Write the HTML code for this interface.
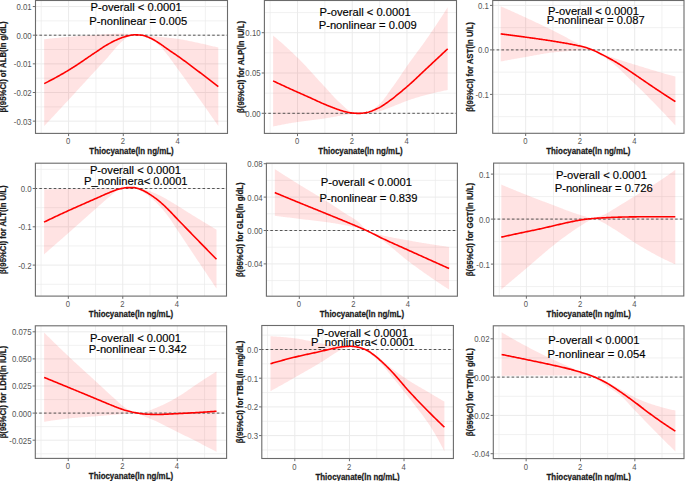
<!DOCTYPE html>
<html><head><meta charset="utf-8"><style>
html,body{margin:0;padding:0;background:#fff;}
body{width:685px;height:481px;overflow:hidden;}
svg{display:block;}
text{font-family:"Liberation Sans",sans-serif;}
.tl{font-size:9px;fill:#555;}
.at{font-size:7.92px;font-weight:bold;fill:#1a1a1a;stroke:#1a1a1a;stroke-width:0.22px;}
.pt{font-size:11.2px;fill:#000;stroke:#000;stroke-width:0.15px;}
</style></head><body>
<svg width="685" height="481" viewBox="0 0 685 481">
<rect width="685" height="481" fill="#fff"/>

<g>
<clipPath id="c00"><rect x="35.50" y="0.50" width="192.00" height="132.90"/></clipPath>
<path d="M41.22,0.50V133.40 M95.93,0.50V133.40 M150.65,0.50V133.40 M205.37,0.50V133.40 M35.50,20.88H227.50 M35.50,49.53H227.50 M35.50,78.18H227.50 M35.50,106.83H227.50" stroke="#ebebeb" stroke-width="0.7" fill="none"/>
<path d="M68.58,0.50V133.40 M123.29,0.50V133.40 M178.01,0.50V133.40 M35.50,6.55H227.50 M35.50,35.20H227.50 M35.50,63.85H227.50 M35.50,92.50H227.50 M35.50,121.15H227.50" stroke="#ebebeb" stroke-width="1" fill="none"/>
<polygon clip-path="url(#c00)" points="44.10,39.30 45.08,39.18 46.07,39.07 47.05,38.96 48.04,38.84 49.02,38.73 50.00,38.62 50.99,38.51 51.97,38.41 52.96,38.30 53.94,38.20 54.92,38.09 55.91,37.99 56.89,37.89 57.88,37.79 58.86,37.69 59.84,37.59 60.83,37.50 61.81,37.41 62.80,37.31 63.78,37.22 64.76,37.14 65.75,37.05 66.73,36.96 67.72,36.88 68.70,36.80 69.68,36.72 70.66,36.64 71.64,36.57 72.63,36.49 73.61,36.42 74.59,36.35 75.57,36.28 76.55,36.21 77.53,36.15 78.51,36.08 79.50,36.01 80.48,35.95 81.46,35.89 82.44,35.82 83.42,35.76 84.40,35.70 85.39,35.63 86.37,35.57 87.35,35.51 88.33,35.45 89.31,35.39 90.29,35.32 91.27,35.26 92.26,35.20 93.24,35.13 94.22,35.07 95.20,35.00 96.19,34.93 97.17,34.86 98.16,34.79 99.15,34.71 100.13,34.64 101.12,34.57 102.11,34.49 103.09,34.42 104.08,34.35 105.07,34.28 106.05,34.22 107.04,34.16 108.03,34.10 109.01,34.05 110.00,34.00 111.00,33.96 112.00,33.91 113.00,33.86 114.00,33.82 115.00,33.77 116.00,33.73 117.00,33.70 118.00,33.66 119.00,33.64 120.00,33.62 121.00,33.60 122.00,33.60 123.00,33.61 124.00,33.63 125.00,33.67 126.00,33.72 127.00,33.78 128.00,33.85 129.00,33.92 130.00,34.00 130.94,34.10 131.88,34.24 132.82,34.41 133.76,34.60 134.70,34.80 135.61,34.80 136.52,34.82 137.44,34.84 138.35,34.86 139.26,34.89 140.18,34.92 141.09,34.96 142.00,35.00 143.00,35.06 144.00,35.15 145.00,35.26 146.00,35.39 147.00,35.52 148.00,35.66 149.00,35.78 150.00,35.90 151.00,36.01 152.00,36.11 153.00,36.21 154.00,36.31 155.00,36.41 156.00,36.50 157.00,36.60 158.00,36.70 159.00,36.80 160.00,36.89 161.00,36.99 162.00,37.10 163.00,37.20 163.96,37.30 164.92,37.40 165.88,37.50 166.84,37.59 167.80,37.69 168.76,37.79 169.72,37.89 170.68,37.99 171.64,38.09 172.60,38.20 173.56,38.31 174.52,38.43 175.48,38.54 176.44,38.67 177.40,38.80 178.38,38.94 179.36,39.09 180.34,39.25 181.32,39.41 182.30,39.58 183.28,39.76 184.26,39.94 185.24,40.13 186.22,40.32 187.20,40.52 188.18,40.72 189.16,40.93 190.14,41.13 191.12,41.34 192.10,41.55 193.08,41.76 194.06,41.97 195.04,42.18 196.02,42.39 197.00,42.60 197.97,42.81 198.94,43.01 199.90,43.23 200.87,43.44 201.84,43.65 202.81,43.87 203.78,44.09 204.75,44.31 205.71,44.53 206.68,44.76 207.65,44.98 208.62,45.21 209.59,45.44 210.55,45.67 211.52,45.91 212.49,46.14 213.46,46.38 214.43,46.62 215.40,46.86 216.36,47.11 217.33,47.35 218.30,47.60 218.30,126.00 217.33,124.60 216.36,123.21 215.39,121.82 214.42,120.43 213.45,119.04 212.48,117.65 211.51,116.27 210.54,114.88 209.57,113.50 208.60,112.12 207.63,110.74 206.67,109.36 205.70,107.98 204.73,106.61 203.76,105.23 202.79,103.86 201.82,102.49 200.85,101.12 199.88,99.75 198.91,98.39 197.94,97.02 196.97,95.66 196.00,94.30 195.00,92.90 194.00,91.50 193.00,90.10 192.00,88.70 191.00,87.30 190.00,85.91 189.00,84.52 188.00,83.13 187.00,81.74 186.00,80.35 185.00,78.96 184.00,77.58 183.00,76.20 182.00,74.82 181.00,73.44 180.00,72.06 179.00,70.69 178.00,69.31 177.00,67.94 176.00,66.57 175.00,65.20 174.05,63.89 173.10,62.57 172.15,61.25 171.20,59.93 170.25,58.63 169.30,57.35 168.35,56.10 167.40,54.90 166.49,53.76 165.58,52.62 164.67,51.49 163.76,50.38 162.84,49.30 161.93,48.26 161.02,47.27 160.11,46.35 159.20,45.50 158.27,44.68 157.34,43.88 156.41,43.10 155.48,42.35 154.55,41.64 153.62,40.96 152.69,40.34 151.76,39.76 150.83,39.25 149.90,38.80 148.91,38.37 147.92,37.98 146.93,37.61 145.94,37.26 144.96,36.95 143.97,36.65 142.98,36.38 141.99,36.13 141.00,35.90 140.10,35.70 139.20,35.52 138.30,35.34 137.40,35.18 136.50,35.04 135.60,34.91 134.70,34.80 133.75,34.89 132.80,35.06 131.85,35.31 130.90,35.61 129.95,35.94 129.00,36.30 128.04,36.75 127.08,37.33 126.12,38.01 125.16,38.75 124.20,39.50 123.23,40.29 122.27,41.15 121.30,42.07 120.33,43.02 119.37,44.01 118.40,45.00 117.43,46.03 116.45,47.09 115.48,48.19 114.50,49.32 113.53,50.47 112.55,51.63 111.58,52.79 110.60,53.96 109.62,55.12 108.65,56.27 107.67,57.40 106.70,58.50 105.73,59.57 104.77,60.63 103.80,61.68 102.83,62.73 101.87,63.76 100.90,64.80 99.93,65.83 98.97,66.86 98.00,67.89 97.03,68.92 96.07,69.96 95.10,71.00 94.10,72.08 93.10,73.17 92.10,74.25 91.10,75.34 90.10,76.43 89.10,77.52 88.10,78.61 87.10,79.70 86.10,80.79 85.10,81.88 84.10,82.98 83.10,84.07 82.10,85.16 81.10,86.26 80.10,87.35 79.10,88.44 78.10,89.53 77.10,90.62 76.10,91.71 75.10,92.80 74.10,93.89 73.10,94.98 72.10,96.07 71.10,97.15 70.10,98.24 69.10,99.32 68.10,100.40 67.10,101.47 66.11,102.55 65.11,103.62 64.12,104.70 63.12,105.77 62.12,106.84 61.13,107.91 60.13,108.98 59.14,110.05 58.14,111.12 57.15,112.18 56.15,113.25 55.15,114.32 54.16,115.38 53.16,116.45 52.17,117.51 51.17,118.57 50.17,119.64 49.18,120.70 48.18,121.76 47.19,122.82 46.19,123.88 45.20,124.94 44.20,126.00" fill="#ff0000" fill-opacity="0.11"/>
<path d="M35.50,35.20H227.50" stroke="#3a3a3a" stroke-width="0.85" stroke-dasharray="2.6,2.2" stroke-dashoffset="0.9" fill="none"/>
<polyline clip-path="url(#c00)" points="44.20,83.60 45.20,83.11 46.19,82.61 47.19,82.10 48.18,81.59 49.18,81.08 50.17,80.56 51.17,80.04 52.17,79.51 53.16,78.98 54.16,78.44 55.15,77.90 56.15,77.36 57.15,76.81 58.14,76.26 59.14,75.70 60.13,75.14 61.13,74.57 62.12,74.00 63.12,73.43 64.12,72.85 65.11,72.27 66.11,71.68 67.10,71.09 68.10,70.50 69.10,69.90 70.09,69.29 71.09,68.67 72.09,68.04 73.08,67.41 74.08,66.77 75.07,66.12 76.07,65.47 77.07,64.81 78.06,64.15 79.06,63.49 80.06,62.82 81.05,62.14 82.05,61.47 83.04,60.79 84.04,60.11 85.04,59.43 86.03,58.75 87.03,58.07 88.03,57.39 89.02,56.71 90.02,56.04 91.01,55.36 92.01,54.69 93.01,54.02 94.00,53.36 95.00,52.70 95.97,52.05 96.95,51.39 97.92,50.72 98.90,50.06 99.88,49.39 100.85,48.72 101.83,48.06 102.80,47.41 103.78,46.78 104.75,46.16 105.72,45.57 106.70,45.00 107.67,44.45 108.65,43.90 109.62,43.36 110.60,42.83 111.58,42.31 112.55,41.81 113.53,41.32 114.50,40.84 115.48,40.38 116.45,39.93 117.43,39.51 118.40,39.10 119.33,38.72 120.26,38.35 121.19,37.98 122.12,37.62 123.05,37.27 123.98,36.95 124.91,36.64 125.84,36.36 126.77,36.12 127.70,35.90 128.70,35.68 129.70,35.47 130.70,35.26 131.70,35.08 132.70,34.93 133.70,34.83 134.70,34.80 135.70,34.81 136.70,34.84 137.70,34.89 138.70,34.95 139.70,35.02 140.70,35.11 141.70,35.20 142.61,35.32 143.52,35.52 144.43,35.76 145.34,36.06 146.26,36.39 147.17,36.75 148.08,37.13 148.99,37.52 149.90,37.90 150.83,38.31 151.76,38.76 152.69,39.24 153.62,39.76 154.55,40.30 155.48,40.86 156.41,41.43 157.34,42.02 158.27,42.61 159.20,43.20 160.11,43.79 161.02,44.41 161.93,45.05 162.84,45.71 163.76,46.37 164.67,47.04 165.58,47.70 166.49,48.36 167.40,49.00 168.40,49.69 169.40,50.37 170.40,51.04 171.40,51.72 172.40,52.39 173.40,53.06 174.40,53.73 175.40,54.41 176.40,55.10 177.40,55.80 178.38,56.49 179.36,57.19 180.34,57.90 181.32,58.61 182.30,59.32 183.28,60.04 184.26,60.76 185.24,61.48 186.22,62.21 187.20,62.94 188.18,63.67 189.16,64.40 190.14,65.14 191.12,65.87 192.10,66.61 193.08,67.35 194.06,68.09 195.04,68.82 196.02,69.56 197.00,70.30 197.97,71.03 198.94,71.76 199.90,72.49 200.87,73.22 201.84,73.96 202.81,74.69 203.78,75.43 204.75,76.16 205.71,76.90 206.68,77.64 207.65,78.38 208.62,79.12 209.59,79.86 210.55,80.61 211.52,81.35 212.49,82.10 213.46,82.85 214.43,83.59 215.40,84.34 216.36,85.09 217.33,85.85 218.30,86.60" fill="none" stroke="#ff0000" stroke-width="1.6" stroke-linejoin="round" stroke-linecap="butt"/>
<rect x="35.50" y="0.50" width="192.00" height="132.90" fill="none" stroke="#6b6b6b" stroke-width="1.1"/>
<path d="M68.58,133.40v2.7 M123.29,133.40v2.7 M178.01,133.40v2.7 M35.50,6.55h-2.7 M35.50,35.20h-2.7 M35.50,63.85h-2.7 M35.50,92.50h-2.7 M35.50,121.15h-2.7" stroke="#6b6b6b" stroke-width="1" fill="none"/>
<text class="tl" transform="translate(68.18,144.40) scale(0.85,1)" text-anchor="middle">0</text>
<text class="tl" transform="translate(122.89,144.40) scale(0.85,1)" text-anchor="middle">2</text>
<text class="tl" transform="translate(177.61,144.40) scale(0.85,1)" text-anchor="middle">4</text>
<text class="tl" transform="translate(31.70,9.95) scale(0.87,1)" text-anchor="end">0.01</text>
<text class="tl" transform="translate(31.70,38.60) scale(0.87,1)" text-anchor="end">0.00</text>
<text class="tl" transform="translate(31.70,67.25) scale(0.87,1)" text-anchor="end">-0.01</text>
<text class="tl" transform="translate(31.70,95.90) scale(0.87,1)" text-anchor="end">-0.02</text>
<text class="tl" transform="translate(31.70,124.55) scale(0.87,1)" text-anchor="end">-0.03</text>
<text class="at" transform="translate(131.50,154.40) scale(1,1.15)" text-anchor="middle">Thiocyanate(ln ng/mL)</text>
<text class="at" transform="translate(6.40,66.95) rotate(-90) scale(0.98,1.05)" text-anchor="middle">β(95%CI) of ALB(ln g/dL)</text>
<text class="pt" x="90.60" y="11.20">P-overall < 0.0001</text>
<text class="pt" x="89.30" y="25.20">P-nonlinear = 0.005</text>
</g>
<g>
<clipPath id="c01"><rect x="264.40" y="0.50" width="192.10" height="132.90"/></clipPath>
<path d="M270.12,0.50V133.40 M324.87,0.50V133.40 M379.61,0.50V133.40 M434.36,0.50V133.40 M264.40,12.55H456.50 M264.40,52.85H456.50 M264.40,93.15H456.50" stroke="#ebebeb" stroke-width="0.7" fill="none"/>
<path d="M297.49,0.50V133.40 M352.24,0.50V133.40 M406.98,0.50V133.40 M264.40,32.70H456.50 M264.40,73.00H456.50 M264.40,113.30H456.50" stroke="#ebebeb" stroke-width="1" fill="none"/>
<polygon clip-path="url(#c01)" points="273.10,35.60 274.10,36.42 275.09,37.25 276.09,38.09 277.08,38.93 278.08,39.78 279.08,40.63 280.07,41.49 281.07,42.36 282.06,43.24 283.06,44.12 284.06,45.01 285.05,45.91 286.05,46.81 287.04,47.71 288.04,48.63 289.04,49.55 290.03,50.48 291.03,51.41 292.02,52.35 293.02,53.29 294.02,54.24 295.01,55.20 296.01,56.16 297.00,57.13 298.00,58.10 298.97,59.06 299.94,60.03 300.91,61.01 301.88,62.01 302.85,63.01 303.82,64.03 304.79,65.05 305.76,66.08 306.73,67.12 307.70,68.17 308.67,69.22 309.64,70.28 310.61,71.34 311.59,72.40 312.56,73.47 313.53,74.54 314.50,75.61 315.47,76.68 316.44,77.75 317.41,78.82 318.38,79.89 319.35,80.95 320.32,82.01 321.29,83.07 322.26,84.12 323.23,85.16 324.20,86.20 325.20,87.28 326.20,88.37 327.20,89.47 328.20,90.58 329.20,91.70 330.20,92.81 331.20,93.92 332.20,95.02 333.20,96.11 334.20,97.17 335.20,98.22 336.20,99.24 337.20,100.23 338.20,101.18 339.20,102.10 340.14,102.95 341.07,103.82 342.01,104.71 342.94,105.60 343.88,106.47 344.81,107.33 345.75,108.16 346.69,108.95 347.62,109.69 348.56,110.38 349.49,110.99 350.43,111.52 351.36,111.96 352.30,112.30 353.24,112.58 354.18,112.83 355.12,113.04 356.06,113.20 357.00,113.30 357.94,113.29 358.87,113.25 359.81,113.20 360.75,113.13 361.68,113.04 362.62,112.93 363.55,112.81 364.49,112.67 365.43,112.52 366.36,112.37 367.30,112.20 368.25,111.97 369.20,111.64 370.15,111.21 371.10,110.70 372.05,110.11 373.00,109.46 373.95,108.75 374.90,108.01 375.85,107.23 376.80,106.42 377.75,105.61 378.70,104.80 379.69,103.90 380.69,102.90 381.68,101.81 382.67,100.64 383.66,99.41 384.66,98.12 385.65,96.78 386.64,95.40 387.64,94.00 388.63,92.59 389.62,91.17 390.61,89.76 391.61,88.37 392.60,87.00 393.58,85.65 394.56,84.29 395.55,82.90 396.53,81.49 397.51,80.07 398.49,78.63 399.48,77.19 400.46,75.74 401.44,74.28 402.42,72.83 403.41,71.37 404.39,69.92 405.37,68.47 406.35,67.03 407.34,65.61 408.32,64.19 409.30,62.80 410.28,61.43 411.25,60.07 412.23,58.73 413.21,57.39 414.18,56.07 415.16,54.74 416.14,53.42 417.11,52.11 418.09,50.79 419.06,49.47 420.04,48.14 421.02,46.81 421.99,45.48 422.97,44.13 423.95,42.77 424.92,41.39 425.90,40.00 426.89,38.58 427.88,37.15 428.87,35.71 429.86,34.27 430.85,32.82 431.85,31.37 432.84,29.91 433.83,28.44 434.82,26.96 435.81,25.48 436.80,24.00 437.79,22.50 438.78,21.00 439.77,19.50 440.76,17.98 441.75,16.46 442.75,14.94 443.74,13.40 444.73,11.86 445.72,10.32 446.71,8.76 447.70,7.20 447.70,90.00 446.71,90.19 445.73,90.39 444.74,90.58 443.75,90.79 442.77,90.99 441.78,91.20 440.80,91.42 439.81,91.64 438.82,91.86 437.84,92.08 436.85,92.31 435.86,92.54 434.88,92.77 433.89,93.01 432.90,93.25 431.92,93.49 430.93,93.74 429.95,93.98 428.96,94.24 427.97,94.49 426.99,94.74 426.00,95.00 425.02,95.26 424.04,95.52 423.05,95.79 422.07,96.06 421.09,96.34 420.11,96.62 419.12,96.90 418.14,97.19 417.16,97.49 416.18,97.79 415.19,98.09 414.21,98.40 413.23,98.71 412.25,99.02 411.26,99.34 410.28,99.67 409.30,100.00 408.32,100.34 407.34,100.69 406.35,101.05 405.37,101.42 404.39,101.80 403.41,102.19 402.42,102.58 401.44,102.98 400.46,103.38 399.48,103.78 398.49,104.18 397.51,104.58 396.53,104.97 395.55,105.36 394.56,105.75 393.58,106.13 392.60,106.50 391.61,106.88 390.61,107.26 389.62,107.65 388.63,108.04 387.64,108.43 386.64,108.82 385.65,109.20 384.66,109.58 383.66,109.94 382.67,110.29 381.68,110.63 380.69,110.94 379.69,111.23 378.70,111.50 377.75,111.75 376.80,112.01 375.85,112.27 374.90,112.53 373.95,112.78 373.00,113.02 372.05,113.23 371.10,113.42 370.15,113.58 369.20,113.70 368.25,113.77 367.30,113.80 366.36,113.80 365.43,113.80 364.49,113.79 363.55,113.78 362.62,113.75 361.68,113.72 360.75,113.67 359.81,113.61 358.87,113.53 357.94,113.42 357.00,113.30 356.03,113.43 355.05,113.56 354.08,113.69 353.11,113.82 352.14,113.95 351.16,114.09 350.19,114.23 349.22,114.37 348.25,114.51 347.27,114.65 346.30,114.80 345.30,114.95 344.31,115.11 343.31,115.27 342.32,115.44 341.32,115.61 340.33,115.78 339.33,115.95 338.34,116.12 337.34,116.30 336.35,116.48 335.35,116.65 334.35,116.83 333.36,117.01 332.36,117.18 331.37,117.36 330.37,117.53 329.38,117.70 328.38,117.87 327.39,118.03 326.39,118.19 325.40,118.35 324.40,118.50 323.43,118.64 322.45,118.79 321.48,118.92 320.51,119.06 319.53,119.19 318.56,119.32 317.59,119.45 316.61,119.57 315.64,119.70 314.67,119.82 313.69,119.94 312.72,120.06 311.75,120.19 310.77,120.31 309.80,120.43 308.83,120.55 307.85,120.67 306.88,120.79 305.91,120.91 304.93,121.04 303.96,121.16 302.99,121.29 302.01,121.42 301.04,121.55 300.07,121.68 299.09,121.82 298.12,121.96 297.15,122.10 296.17,122.25 295.20,122.40 294.24,122.55 293.28,122.71 292.32,122.86 291.36,123.02 290.40,123.19 289.43,123.35 288.47,123.52 287.51,123.69 286.55,123.87 285.59,124.04 284.63,124.22 283.67,124.40 282.71,124.58 281.75,124.76 280.79,124.95 279.83,125.14 278.87,125.33 277.90,125.52 276.94,125.71 275.98,125.91 275.02,126.10 274.06,126.30 273.10,126.50" fill="#ff0000" fill-opacity="0.11"/>
<path d="M264.40,113.30H456.50" stroke="#3a3a3a" stroke-width="0.85" stroke-dasharray="2.6,2.2" stroke-dashoffset="0.9" fill="none"/>
<polyline clip-path="url(#c01)" points="273.10,80.90 274.06,81.35 275.02,81.81 275.98,82.26 276.94,82.71 277.90,83.16 278.86,83.61 279.82,84.06 280.78,84.50 281.74,84.95 282.70,85.39 283.66,85.84 284.62,86.28 285.58,86.73 286.54,87.17 287.50,87.61 288.46,88.05 289.42,88.49 290.38,88.93 291.34,89.36 292.30,89.80 293.27,90.24 294.24,90.68 295.22,91.12 296.19,91.55 297.16,91.99 298.13,92.42 299.11,92.85 300.08,93.28 301.05,93.71 302.02,94.14 302.99,94.57 303.97,95.00 304.94,95.43 305.91,95.86 306.88,96.30 307.86,96.73 308.83,97.16 309.80,97.60 310.77,98.04 311.75,98.48 312.72,98.93 313.69,99.38 314.67,99.83 315.64,100.28 316.61,100.73 317.59,101.18 318.56,101.62 319.53,102.07 320.51,102.51 321.48,102.94 322.45,103.37 323.43,103.79 324.40,104.20 325.38,104.61 326.35,105.01 327.32,105.42 328.30,105.81 329.27,106.21 330.25,106.60 331.23,106.98 332.20,107.36 333.18,107.73 334.15,108.10 335.12,108.45 336.10,108.80 337.07,109.14 338.03,109.49 339.00,109.83 339.97,110.16 340.93,110.48 341.90,110.79 342.87,111.09 343.83,111.36 344.80,111.60 345.71,111.82 346.62,112.03 347.54,112.24 348.45,112.44 349.36,112.62 350.28,112.78 351.19,112.90 352.10,113.00 353.01,113.08 353.93,113.15 354.84,113.22 355.75,113.28 356.66,113.33 357.57,113.37 358.49,113.39 359.40,113.40 360.34,113.38 361.29,113.31 362.23,113.21 363.17,113.07 364.11,112.93 365.06,112.76 366.00,112.60 366.98,112.41 367.95,112.18 368.93,111.91 369.91,111.61 370.88,111.28 371.86,110.92 372.84,110.53 373.82,110.13 374.79,109.71 375.77,109.27 376.75,108.82 377.72,108.36 378.70,107.90 379.68,107.41 380.66,106.87 381.64,106.29 382.62,105.67 383.60,105.03 384.58,104.36 385.56,103.68 386.54,102.99 387.52,102.29 388.50,101.60 389.46,100.92 390.42,100.21 391.38,99.50 392.33,98.77 393.29,98.02 394.25,97.27 395.21,96.50 396.17,95.73 397.12,94.95 398.08,94.17 399.04,93.39 400.00,92.60 400.95,91.82 401.90,91.03 402.85,90.23 403.80,89.43 404.75,88.62 405.70,87.81 406.65,86.99 407.60,86.16 408.55,85.33 409.50,84.49 410.45,83.65 411.40,82.80 412.37,81.93 413.33,81.05 414.30,80.16 415.27,79.26 416.23,78.36 417.20,77.45 418.17,76.53 419.13,75.62 420.10,74.70 421.07,73.78 422.03,72.86 423.00,71.94 423.97,71.02 424.93,70.11 425.90,69.20 426.89,68.27 427.88,67.34 428.87,66.42 429.86,65.49 430.85,64.56 431.85,63.63 432.84,62.70 433.83,61.78 434.82,60.85 435.81,59.92 436.80,58.99 437.79,58.07 438.78,57.14 439.77,56.21 440.76,55.29 441.75,54.36 442.75,53.43 443.74,52.50 444.73,51.58 445.72,50.65 446.71,49.73 447.70,48.80" fill="none" stroke="#ff0000" stroke-width="1.6" stroke-linejoin="round" stroke-linecap="butt"/>
<rect x="264.40" y="0.50" width="192.10" height="132.90" fill="none" stroke="#6b6b6b" stroke-width="1.1"/>
<path d="M297.49,133.40v2.7 M352.24,133.40v2.7 M406.98,133.40v2.7 M264.40,32.70h-2.7 M264.40,73.00h-2.7 M264.40,113.30h-2.7" stroke="#6b6b6b" stroke-width="1" fill="none"/>
<text class="tl" transform="translate(297.09,144.40) scale(0.85,1)" text-anchor="middle">0</text>
<text class="tl" transform="translate(351.84,144.40) scale(0.85,1)" text-anchor="middle">2</text>
<text class="tl" transform="translate(406.58,144.40) scale(0.85,1)" text-anchor="middle">4</text>
<text class="tl" transform="translate(260.60,36.10) scale(0.87,1)" text-anchor="end">0.10</text>
<text class="tl" transform="translate(260.60,76.40) scale(0.87,1)" text-anchor="end">0.05</text>
<text class="tl" transform="translate(260.60,116.70) scale(0.87,1)" text-anchor="end">0.00</text>
<text class="at" transform="translate(360.45,154.40) scale(1,1.15)" text-anchor="middle">Thiocyanate(ln ng/mL)</text>
<text class="at" transform="translate(243.60,66.95) rotate(-90) scale(0.98,1.05)" text-anchor="middle">β(95%CI) for ALP(ln IU/L)</text>
<text class="pt" x="319.50" y="16.40">P-overall < 0.0001</text>
<text class="pt" x="318.70" y="28.80">P-nonlinear = 0.009</text>
</g>
<g>
<clipPath id="c02"><rect x="492.70" y="0.50" width="191.30" height="132.80"/></clipPath>
<path d="M498.40,0.50V133.30 M552.91,0.50V133.30 M607.43,0.50V133.30 M661.95,0.50V133.30 M492.70,27.65H684.00 M492.70,72.15H684.00 M492.70,116.65H684.00" stroke="#ebebeb" stroke-width="0.7" fill="none"/>
<path d="M525.66,0.50V133.30 M580.17,0.50V133.30 M634.69,0.50V133.30 M492.70,5.40H684.00 M492.70,49.90H684.00 M492.70,94.40H684.00" stroke="#ebebeb" stroke-width="1" fill="none"/>
<polygon clip-path="url(#c02)" points="500.70,6.30 501.66,6.72 502.63,7.14 503.59,7.57 504.55,7.99 505.51,8.41 506.48,8.84 507.44,9.27 508.40,9.69 509.37,10.12 510.33,10.55 511.29,10.98 512.26,11.41 513.22,11.85 514.18,12.28 515.14,12.71 516.11,13.15 517.07,13.59 518.03,14.02 519.00,14.46 519.96,14.90 520.92,15.34 521.89,15.78 522.85,16.22 523.81,16.67 524.77,17.11 525.74,17.55 526.70,18.00 527.69,18.46 528.69,18.92 529.68,19.38 530.67,19.85 531.66,20.31 532.66,20.77 533.65,21.24 534.64,21.71 535.63,22.17 536.63,22.64 537.62,23.11 538.61,23.58 539.60,24.05 540.60,24.53 541.59,25.00 542.58,25.48 543.57,25.95 544.57,26.43 545.56,26.91 546.55,27.39 547.54,27.87 548.54,28.36 549.53,28.84 550.52,29.33 551.51,29.82 552.51,30.31 553.50,30.80 554.47,31.28 555.44,31.77 556.41,32.27 557.38,32.76 558.35,33.27 559.32,33.77 560.28,34.28 561.25,34.79 562.22,35.30 563.19,35.81 564.16,36.33 565.13,36.84 566.10,37.35 567.07,37.87 568.04,38.38 569.01,38.89 569.98,39.40 570.95,39.90 571.92,40.41 572.88,40.91 573.85,41.40 574.82,41.89 575.79,42.38 576.76,42.86 577.73,43.33 578.70,43.80 579.68,44.27 580.66,44.73 581.64,45.19 582.61,45.64 583.59,46.09 584.57,46.54 585.55,46.98 586.53,47.42 587.51,47.86 588.49,48.29 589.46,48.72 590.44,49.15 591.42,49.58 592.40,50.00 593.34,50.37 594.28,50.74 595.23,51.10 596.17,51.47 597.11,51.83 598.05,52.19 598.99,52.55 599.93,52.90 600.88,53.26 601.82,53.61 602.76,53.95 603.70,54.30 604.66,54.65 605.62,55.00 606.58,55.35 607.55,55.69 608.51,56.04 609.47,56.38 610.43,56.71 611.39,57.05 612.35,57.39 613.32,57.72 614.28,58.05 615.24,58.38 616.20,58.70 617.15,59.02 618.11,59.34 619.06,59.65 620.02,59.96 620.97,60.27 621.92,60.58 622.88,60.88 623.83,61.19 624.78,61.49 625.74,61.80 626.69,62.10 627.65,62.40 628.60,62.70 629.54,63.00 630.48,63.29 631.42,63.59 632.37,63.88 633.31,64.17 634.25,64.46 635.19,64.75 636.13,65.04 637.08,65.33 638.02,65.62 638.96,65.91 639.90,66.20 640.85,66.49 641.80,66.78 642.75,67.08 643.70,67.37 644.65,67.66 645.60,67.95 646.55,68.25 647.50,68.54 648.45,68.83 649.40,69.12 650.35,69.41 651.30,69.70 652.25,69.99 653.20,70.27 654.15,70.56 655.10,70.84 656.05,71.12 657.00,71.40 657.97,71.68 658.94,71.97 659.91,72.25 660.87,72.53 661.84,72.81 662.81,73.08 663.78,73.36 664.75,73.64 665.72,73.91 666.68,74.19 667.65,74.46 668.62,74.73 669.59,75.00 670.56,75.27 671.53,75.54 672.49,75.81 673.46,76.07 674.43,76.34 675.40,76.60 675.40,125.50 674.43,124.45 673.46,123.40 672.49,122.36 671.53,121.32 670.56,120.28 669.59,119.24 668.62,118.21 667.65,117.18 666.68,116.15 665.72,115.12 664.75,114.10 663.78,113.08 662.81,112.06 661.84,111.04 660.87,110.03 659.91,109.02 658.94,108.01 657.97,107.00 657.00,106.00 656.05,105.02 655.10,104.04 654.15,103.06 653.20,102.08 652.25,101.10 651.30,100.13 650.35,99.16 649.40,98.19 648.45,97.22 647.50,96.26 646.55,95.30 645.60,94.35 644.65,93.40 643.70,92.45 642.75,91.50 641.80,90.56 640.85,89.63 639.90,88.70 638.96,87.79 638.02,86.88 637.08,85.98 636.13,85.09 635.19,84.20 634.25,83.31 633.31,82.43 632.37,81.55 631.42,80.66 630.48,79.78 629.54,78.89 628.60,78.00 627.65,77.09 626.69,76.16 625.74,75.22 624.78,74.28 623.83,73.34 622.88,72.40 621.92,71.46 620.97,70.54 620.02,69.63 619.06,68.74 618.11,67.86 617.15,67.02 616.20,66.20 615.24,65.40 614.28,64.61 613.32,63.84 612.35,63.08 611.39,62.33 610.43,61.59 609.47,60.87 608.51,60.16 607.55,59.46 606.58,58.78 605.62,58.11 604.66,57.45 603.70,56.80 602.76,56.18 601.82,55.56 600.88,54.96 599.93,54.36 598.99,53.78 598.05,53.21 597.11,52.64 596.17,52.09 595.23,51.55 594.28,51.02 593.34,50.51 592.40,50.00 591.47,50.02 590.54,50.04 589.61,50.07 588.68,50.09 587.75,50.12 586.82,50.15 585.88,50.18 584.95,50.21 584.02,50.25 583.09,50.28 582.16,50.32 581.23,50.36 580.30,50.40 579.31,50.44 578.31,50.49 577.32,50.54 576.33,50.59 575.34,50.65 574.34,50.70 573.35,50.76 572.36,50.82 571.37,50.89 570.37,50.95 569.38,51.02 568.39,51.09 567.40,51.17 566.40,51.24 565.41,51.32 564.42,51.40 563.43,51.48 562.43,51.56 561.44,51.65 560.45,51.73 559.46,51.82 558.46,51.91 557.47,52.01 556.48,52.10 555.49,52.20 554.49,52.30 553.50,52.40 552.51,52.51 551.51,52.62 550.52,52.74 549.53,52.87 548.54,53.01 547.54,53.15 546.55,53.30 545.56,53.45 544.57,53.61 543.57,53.77 542.58,53.94 541.59,54.11 540.60,54.28 539.60,54.46 538.61,54.63 537.62,54.81 536.63,55.00 535.63,55.18 534.64,55.36 533.65,55.55 532.66,55.73 531.66,55.91 530.67,56.09 529.68,56.27 528.69,56.45 527.69,56.63 526.70,56.80 525.74,56.97 524.77,57.13 523.81,57.30 522.85,57.47 521.89,57.64 520.92,57.81 519.96,57.98 519.00,58.15 518.03,58.32 517.07,58.49 516.11,58.66 515.14,58.83 514.18,59.01 513.22,59.18 512.26,59.36 511.29,59.53 510.33,59.71 509.37,59.89 508.40,60.06 507.44,60.24 506.48,60.42 505.51,60.60 504.55,60.78 503.59,60.96 502.63,61.14 501.66,61.32 500.70,61.50" fill="#ff0000" fill-opacity="0.11"/>
<path d="M492.70,49.90H684.00" stroke="#3a3a3a" stroke-width="0.85" stroke-dasharray="2.6,2.2" stroke-dashoffset="0.9" fill="none"/>
<polyline clip-path="url(#c02)" points="500.70,33.90 501.66,34.02 502.63,34.14 503.59,34.26 504.55,34.38 505.51,34.50 506.48,34.62 507.44,34.75 508.40,34.87 509.37,34.99 510.33,35.12 511.29,35.24 512.26,35.37 513.22,35.49 514.18,35.62 515.14,35.74 516.11,35.87 517.07,36.00 518.03,36.13 519.00,36.25 519.96,36.38 520.92,36.51 521.89,36.64 522.85,36.77 523.81,36.90 524.77,37.04 525.74,37.17 526.70,37.30 527.69,37.44 528.69,37.57 529.68,37.71 530.67,37.85 531.66,37.99 532.66,38.12 533.65,38.26 534.64,38.40 535.63,38.54 536.63,38.68 537.62,38.82 538.61,38.96 539.60,39.11 540.60,39.25 541.59,39.39 542.58,39.54 543.57,39.68 544.57,39.83 545.56,39.98 546.55,40.13 547.54,40.28 548.54,40.43 549.53,40.58 550.52,40.73 551.51,40.89 552.51,41.04 553.50,41.20 554.50,41.36 555.50,41.52 556.50,41.68 557.50,41.84 558.50,42.01 559.50,42.17 560.50,42.34 561.50,42.50 562.50,42.67 563.50,42.85 564.50,43.02 565.50,43.19 566.50,43.37 567.50,43.55 568.50,43.74 569.50,43.92 570.50,44.11 571.50,44.30 572.50,44.50 573.46,44.69 574.42,44.88 575.38,45.07 576.35,45.27 577.31,45.47 578.27,45.67 579.23,45.88 580.19,46.09 581.15,46.32 582.12,46.55 583.08,46.79 584.04,47.04 585.00,47.30 585.92,47.57 586.85,47.86 587.77,48.16 588.70,48.48 589.62,48.82 590.55,49.17 591.48,49.53 592.40,49.90 593.34,50.29 594.28,50.70 595.23,51.13 596.17,51.57 597.11,52.02 598.05,52.49 598.99,52.97 599.93,53.45 600.88,53.93 601.82,54.42 602.76,54.91 603.70,55.40 604.66,55.90 605.62,56.40 606.58,56.91 607.55,57.42 608.51,57.94 609.47,58.46 610.43,58.99 611.39,59.53 612.35,60.07 613.32,60.62 614.28,61.17 615.24,61.73 616.20,62.30 617.15,62.87 618.11,63.46 619.06,64.05 620.02,64.66 620.97,65.27 621.92,65.88 622.88,66.51 623.83,67.13 624.78,67.76 625.74,68.40 626.69,69.03 627.65,69.67 628.60,70.30 629.54,70.93 630.48,71.56 631.42,72.20 632.37,72.84 633.31,73.48 634.25,74.13 635.19,74.77 636.13,75.42 637.08,76.07 638.02,76.71 638.96,77.36 639.90,78.00 640.85,78.65 641.80,79.29 642.75,79.94 643.70,80.59 644.65,81.24 645.60,81.89 646.55,82.54 647.50,83.18 648.45,83.83 649.40,84.48 650.35,85.12 651.30,85.77 652.25,86.41 653.20,87.05 654.15,87.69 655.10,88.33 656.05,88.97 657.00,89.60 657.97,90.24 658.94,90.89 659.91,91.53 660.87,92.17 661.84,92.80 662.81,93.44 663.78,94.08 664.75,94.71 665.72,95.35 666.68,95.98 667.65,96.61 668.62,97.24 669.59,97.86 670.56,98.49 671.53,99.11 672.49,99.74 673.46,100.36 674.43,100.98 675.40,101.60" fill="none" stroke="#ff0000" stroke-width="1.6" stroke-linejoin="round" stroke-linecap="butt"/>
<rect x="492.70" y="0.50" width="191.30" height="132.80" fill="none" stroke="#6b6b6b" stroke-width="1.1"/>
<path d="M525.66,133.30v2.7 M580.17,133.30v2.7 M634.69,133.30v2.7 M492.70,5.40h-2.7 M492.70,49.90h-2.7 M492.70,94.40h-2.7" stroke="#6b6b6b" stroke-width="1" fill="none"/>
<text class="tl" transform="translate(525.26,144.30) scale(0.85,1)" text-anchor="middle">0</text>
<text class="tl" transform="translate(579.77,144.30) scale(0.85,1)" text-anchor="middle">2</text>
<text class="tl" transform="translate(634.29,144.30) scale(0.85,1)" text-anchor="middle">4</text>
<text class="tl" transform="translate(488.90,8.80) scale(0.87,1)" text-anchor="end">0.1</text>
<text class="tl" transform="translate(488.90,53.30) scale(0.87,1)" text-anchor="end">0.0</text>
<text class="tl" transform="translate(488.90,97.80) scale(0.87,1)" text-anchor="end">-0.1</text>
<text class="at" transform="translate(588.35,154.30) scale(1,1.15)" text-anchor="middle">Thiocyanate(ln ng/mL)</text>
<text class="at" transform="translate(473.00,66.90) rotate(-90) scale(0.98,1.05)" text-anchor="middle">β(95%CI) for AST(ln U/L)</text>
<text class="pt" x="547.90" y="14.80">P-overall < 0.0001</text>
<text class="pt" x="546.70" y="23.50">P-nonlinear = 0.087</text>
</g>
<g>
<clipPath id="c10"><rect x="35.40" y="163.20" width="191.10" height="132.90"/></clipPath>
<path d="M41.09,163.20V296.10 M95.55,163.20V296.10 M150.01,163.20V296.10 M204.47,163.20V296.10 M35.40,169.35H226.50 M35.40,207.65H226.50 M35.40,245.95H226.50 M35.40,284.25H226.50" stroke="#ebebeb" stroke-width="0.7" fill="none"/>
<path d="M68.32,163.20V296.10 M122.78,163.20V296.10 M177.24,163.20V296.10 M35.40,188.50H226.50 M35.40,226.80H226.50 M35.40,265.10H226.50" stroke="#ebebeb" stroke-width="1" fill="none"/>
<polygon clip-path="url(#c10)" points="44.20,189.20 45.19,189.19 46.19,189.19 47.18,189.18 48.18,189.17 49.17,189.17 50.16,189.16 51.16,189.15 52.15,189.15 53.15,189.14 54.14,189.13 55.14,189.12 56.13,189.11 57.12,189.11 58.12,189.10 59.11,189.09 60.11,189.08 61.10,189.07 62.09,189.06 63.09,189.05 64.08,189.04 65.08,189.03 66.07,189.02 67.06,189.01 68.06,189.00 69.05,188.99 70.05,188.98 71.04,188.97 72.04,188.96 73.03,188.95 74.02,188.94 75.02,188.93 76.01,188.92 77.01,188.91 78.00,188.90 79.00,188.89 80.00,188.88 81.00,188.87 82.00,188.86 83.00,188.84 84.00,188.83 85.00,188.82 86.00,188.81 87.00,188.79 88.00,188.78 89.00,188.77 90.00,188.75 91.00,188.74 92.00,188.73 93.00,188.71 94.00,188.70 95.00,188.68 96.00,188.67 97.00,188.65 98.00,188.63 99.00,188.62 100.00,188.60 101.00,188.58 102.00,188.57 103.00,188.55 104.00,188.53 105.00,188.51 106.00,188.49 107.00,188.47 108.00,188.45 109.00,188.43 110.00,188.41 111.00,188.38 112.00,188.36 113.00,188.33 114.00,188.30 115.00,188.27 116.00,188.24 117.00,188.20 118.00,188.16 119.00,188.11 120.00,188.05 121.00,187.99 122.00,187.92 123.00,187.85 124.00,187.77 125.00,187.70 125.94,187.61 126.89,187.54 127.83,187.49 128.78,187.45 129.72,187.43 130.67,187.41 131.61,187.40 132.56,187.40 133.50,187.40 134.44,187.43 135.38,187.51 136.31,187.64 137.25,187.81 138.19,187.99 139.12,188.19 140.06,188.40 141.00,188.60 141.92,188.80 142.84,189.03 143.75,189.27 144.67,189.53 145.59,189.81 146.51,190.10 147.43,190.40 148.35,190.72 149.26,191.04 150.18,191.37 151.10,191.70 152.03,192.05 152.96,192.41 153.89,192.79 154.82,193.19 155.75,193.60 156.68,194.02 157.61,194.45 158.54,194.89 159.47,195.34 160.40,195.80 161.33,196.27 162.26,196.75 163.19,197.26 164.12,197.77 165.05,198.30 165.98,198.83 166.91,199.37 167.84,199.91 168.77,200.46 169.70,201.00 170.67,201.57 171.64,202.14 172.61,202.72 173.58,203.30 174.55,203.89 175.52,204.48 176.48,205.08 177.45,205.68 178.42,206.28 179.39,206.88 180.36,207.49 181.33,208.10 182.30,208.71 183.27,209.32 184.24,209.93 185.21,210.54 186.18,211.15 187.15,211.76 188.12,212.38 189.08,212.99 190.05,213.59 191.02,214.20 191.99,214.80 192.96,215.41 193.93,216.00 194.90,216.60 195.88,217.20 196.86,217.80 197.85,218.40 198.83,219.00 199.81,219.60 200.79,220.20 201.77,220.80 202.75,221.39 203.74,221.99 204.72,222.59 205.70,223.18 206.68,223.78 207.66,224.37 208.65,224.97 209.63,225.56 210.61,226.15 211.59,226.74 212.57,227.34 213.55,227.93 214.54,228.52 215.52,229.11 216.50,229.70 216.50,288.60 215.52,287.14 214.55,285.69 213.57,284.23 212.59,282.78 211.61,281.32 210.64,279.86 209.66,278.40 208.68,276.95 207.70,275.49 206.73,274.03 205.75,272.57 204.77,271.11 203.80,269.65 202.82,268.19 201.84,266.73 200.86,265.27 199.89,263.81 198.91,262.35 197.93,260.89 196.95,259.42 195.98,257.96 195.00,256.50 194.00,255.00 193.00,253.51 192.00,252.01 191.00,250.51 190.00,249.01 189.00,247.52 188.00,246.02 187.00,244.52 186.00,243.02 185.00,241.52 184.00,240.02 183.00,238.52 182.00,237.02 181.00,235.52 180.00,234.02 179.00,232.52 178.00,231.01 177.00,229.51 176.00,228.01 175.00,226.50 174.12,225.15 173.23,223.78 172.35,222.42 171.47,221.06 170.58,219.75 169.70,218.50 168.77,217.23 167.84,215.98 166.91,214.75 165.98,213.54 165.05,212.36 164.12,211.20 163.19,210.08 162.26,208.99 161.33,207.93 160.40,206.90 159.47,205.90 158.54,204.92 157.61,203.97 156.68,203.03 155.75,202.12 154.82,201.24 153.89,200.39 152.96,199.56 152.03,198.76 151.10,198.00 150.16,197.25 149.22,196.51 148.28,195.79 147.34,195.08 146.40,194.40 145.46,193.75 144.52,193.13 143.58,192.54 142.64,192.00 141.70,191.50 140.79,191.03 139.88,190.56 138.97,190.09 138.06,189.65 137.14,189.24 136.23,188.87 135.32,188.57 134.41,188.34 133.50,188.20 132.56,188.11 131.61,188.02 130.67,187.94 129.72,187.87 128.78,187.81 127.83,187.76 126.89,187.73 125.94,187.71 125.00,187.70 124.00,187.91 123.00,188.18 122.00,188.51 121.00,188.88 120.00,189.29 119.00,189.73 118.00,190.20 117.06,190.70 116.12,191.29 115.18,191.96 114.24,192.68 113.30,193.45 112.36,194.26 111.42,195.08 110.48,195.90 109.54,196.71 108.60,197.50 107.64,198.29 106.68,199.10 105.72,199.92 104.75,200.75 103.79,201.59 102.83,202.43 101.87,203.28 100.91,204.13 99.95,204.99 98.98,205.84 98.02,206.70 97.06,207.55 96.10,208.40 95.10,209.28 94.10,210.16 93.10,211.05 92.10,211.93 91.10,212.82 90.10,213.71 89.10,214.60 88.10,215.49 87.10,216.38 86.10,217.27 85.10,218.16 84.10,219.05 83.10,219.95 82.10,220.84 81.10,221.73 80.10,222.63 79.10,223.52 78.10,224.41 77.10,225.31 76.10,226.20 75.10,227.09 74.10,227.98 73.10,228.87 72.10,229.76 71.10,230.65 70.10,231.53 69.10,232.42 68.10,233.30 67.14,234.15 66.17,235.00 65.21,235.85 64.24,236.70 63.28,237.55 62.32,238.39 61.35,239.24 60.39,240.09 59.42,240.93 58.46,241.78 57.50,242.62 56.53,243.47 55.57,244.31 54.60,245.15 53.64,246.00 52.68,246.84 51.71,247.68 50.75,248.52 49.78,249.36 48.82,250.20 47.86,251.04 46.89,251.88 45.93,252.72 44.96,253.56 44.00,254.40" fill="#ff0000" fill-opacity="0.11"/>
<path d="M35.40,188.50H226.50" stroke="#3a3a3a" stroke-width="0.85" stroke-dasharray="2.6,2.2" stroke-dashoffset="0.9" fill="none"/>
<polyline clip-path="url(#c10)" points="44.00,222.10 44.96,221.64 45.93,221.17 46.89,220.71 47.86,220.25 48.82,219.79 49.78,219.33 50.75,218.88 51.71,218.42 52.68,217.96 53.64,217.51 54.60,217.05 55.57,216.60 56.53,216.15 57.50,215.70 58.46,215.25 59.42,214.80 60.39,214.35 61.35,213.90 62.32,213.46 63.28,213.01 64.24,212.57 65.21,212.12 66.17,211.68 67.14,211.24 68.10,210.80 69.10,210.35 70.10,209.89 71.10,209.44 72.10,208.99 73.10,208.54 74.10,208.09 75.10,207.65 76.10,207.20 77.10,206.76 78.10,206.31 79.10,205.87 80.10,205.43 81.10,204.99 82.10,204.55 83.10,204.11 84.10,203.67 85.10,203.23 86.10,202.79 87.10,202.35 88.10,201.92 89.10,201.48 90.10,201.04 91.10,200.60 92.10,200.16 93.10,199.72 94.10,199.28 95.10,198.84 96.10,198.40 97.06,197.97 98.02,197.54 98.98,197.11 99.95,196.67 100.91,196.24 101.87,195.80 102.83,195.37 103.79,194.94 104.75,194.52 105.72,194.10 106.68,193.69 107.64,193.29 108.60,192.90 109.58,192.50 110.56,192.10 111.54,191.70 112.52,191.30 113.50,190.91 114.48,190.54 115.46,190.18 116.44,189.85 117.42,189.56 118.40,189.30 119.33,189.07 120.26,188.83 121.19,188.60 122.12,188.38 123.05,188.17 123.98,187.98 124.91,187.82 125.84,187.70 126.77,187.63 127.70,187.60 128.67,187.60 129.63,187.60 130.60,187.60 131.57,187.60 132.53,187.60 133.50,187.60 134.41,187.65 135.32,187.77 136.23,187.97 137.14,188.22 138.06,188.52 138.97,188.85 139.88,189.20 140.79,189.55 141.70,189.90 142.64,190.28 143.58,190.70 144.52,191.18 145.46,191.69 146.40,192.23 147.34,192.80 148.28,193.38 149.22,193.98 150.16,194.59 151.10,195.20 152.03,195.81 152.96,196.45 153.89,197.10 154.82,197.78 155.75,198.47 156.68,199.19 157.61,199.92 158.54,200.67 159.47,201.43 160.40,202.20 161.33,202.99 162.26,203.81 163.19,204.66 164.12,205.52 165.05,206.41 165.98,207.31 166.91,208.22 167.84,209.14 168.77,210.07 169.70,211.00 170.58,211.90 171.47,212.83 172.35,213.77 173.23,214.72 174.12,215.67 175.00,216.60 175.99,217.63 176.97,218.66 177.96,219.69 178.94,220.71 179.93,221.74 180.91,222.76 181.90,223.78 182.89,224.80 183.87,225.82 184.86,226.84 185.84,227.86 186.83,228.87 187.81,229.89 188.80,230.90 189.79,231.92 190.77,232.93 191.76,233.94 192.74,234.96 193.73,235.97 194.71,236.99 195.70,238.00 196.69,239.02 197.68,240.04 198.67,241.06 199.66,242.07 200.65,243.09 201.64,244.11 202.63,245.12 203.62,246.14 204.61,247.15 205.60,248.17 206.60,249.18 207.59,250.20 208.58,251.21 209.57,252.22 210.56,253.24 211.55,254.25 212.54,255.26 213.53,256.27 214.52,257.28 215.51,258.29 216.50,259.30" fill="none" stroke="#ff0000" stroke-width="1.6" stroke-linejoin="round" stroke-linecap="butt"/>
<rect x="35.40" y="163.20" width="191.10" height="132.90" fill="none" stroke="#6b6b6b" stroke-width="1.1"/>
<path d="M68.32,296.10v2.7 M122.78,296.10v2.7 M177.24,296.10v2.7 M35.40,188.50h-2.7 M35.40,226.80h-2.7 M35.40,265.10h-2.7" stroke="#6b6b6b" stroke-width="1" fill="none"/>
<text class="tl" transform="translate(67.92,307.10) scale(0.85,1)" text-anchor="middle">0</text>
<text class="tl" transform="translate(122.38,307.10) scale(0.85,1)" text-anchor="middle">2</text>
<text class="tl" transform="translate(176.84,307.10) scale(0.85,1)" text-anchor="middle">4</text>
<text class="tl" transform="translate(31.60,191.90) scale(0.87,1)" text-anchor="end">0.0</text>
<text class="tl" transform="translate(31.60,230.20) scale(0.87,1)" text-anchor="end">-0.1</text>
<text class="tl" transform="translate(31.60,268.50) scale(0.87,1)" text-anchor="end">-0.2</text>
<text class="at" transform="translate(130.95,317.10) scale(1,1.15)" text-anchor="middle">Thiocyanate(ln ng/mL)</text>
<text class="at" transform="translate(6.40,229.65) rotate(-90) scale(0.98,1.05)" text-anchor="middle">β(95%CI) for ALT(ln U/L)</text>
<text class="pt" x="89.90" y="174.00">P-overall < 0.0001</text>
<text class="pt" x="84.00" y="184.70">P_nonlinera< 0.0001</text>
</g>
<g>
<clipPath id="c11"><rect x="266.40" y="163.20" width="191.00" height="133.00"/></clipPath>
<path d="M272.09,163.20V296.20 M326.52,163.20V296.20 M380.95,163.20V296.20 M435.38,163.20V296.20 M266.40,180.40H457.40 M266.40,213.80H457.40 M266.40,247.20H457.40 M266.40,280.60H457.40" stroke="#ebebeb" stroke-width="0.7" fill="none"/>
<path d="M299.30,163.20V296.20 M353.74,163.20V296.20 M408.17,163.20V296.20 M266.40,163.70H457.40 M266.40,197.10H457.40 M266.40,230.50H457.40 M266.40,263.90H457.40" stroke="#ebebeb" stroke-width="1" fill="none"/>
<polygon clip-path="url(#c11)" points="274.80,169.10 275.77,169.72 276.73,170.34 277.70,170.96 278.67,171.58 279.63,172.20 280.60,172.82 281.57,173.44 282.53,174.05 283.50,174.67 284.47,175.28 285.43,175.90 286.40,176.51 287.37,177.12 288.33,177.73 289.30,178.35 290.27,178.96 291.23,179.56 292.20,180.17 293.17,180.78 294.13,181.39 295.10,181.99 296.07,182.59 297.03,183.20 298.00,183.80 298.99,184.42 299.99,185.03 300.98,185.64 301.97,186.25 302.97,186.86 303.96,187.46 304.95,188.07 305.94,188.67 306.94,189.27 307.93,189.87 308.92,190.47 309.92,191.07 310.91,191.67 311.90,192.27 312.90,192.87 313.89,193.47 314.88,194.07 315.88,194.67 316.87,195.27 317.86,195.87 318.86,196.48 319.85,197.08 320.84,197.69 321.83,198.30 322.83,198.92 323.82,199.53 324.81,200.15 325.81,200.77 326.80,201.40 327.76,202.01 328.72,202.62 329.68,203.24 330.64,203.85 331.60,204.47 332.56,205.10 333.52,205.72 334.48,206.35 335.44,206.98 336.40,207.61 337.36,208.24 338.32,208.87 339.28,209.50 340.24,210.13 341.20,210.76 342.16,211.39 343.12,212.02 344.08,212.65 345.04,213.28 346.00,213.90 346.98,214.53 347.97,215.13 348.95,215.71 349.94,216.29 350.92,216.86 351.91,217.43 352.89,218.02 353.88,218.63 354.86,219.26 355.85,219.93 356.83,220.64 357.82,221.39 358.80,222.20 359.70,223.01 360.60,223.91 361.50,224.88 362.40,225.92 363.30,227.01 364.20,228.14 365.10,229.31 366.00,230.50 366.98,230.84 367.97,231.18 368.95,231.51 369.94,231.85 370.92,232.17 371.91,232.49 372.89,232.81 373.88,233.12 374.86,233.41 375.85,233.70 376.83,233.98 377.82,234.25 378.80,234.50 379.78,234.74 380.75,234.98 381.73,235.21 382.70,235.44 383.68,235.66 384.65,235.88 385.62,236.10 386.60,236.31 387.57,236.52 388.55,236.72 389.53,236.92 390.50,237.12 391.48,237.32 392.45,237.51 393.43,237.70 394.40,237.89 395.38,238.07 396.35,238.26 397.32,238.44 398.30,238.62 399.27,238.79 400.25,238.97 401.23,239.15 402.20,239.32 403.18,239.49 404.15,239.67 405.12,239.84 406.10,240.01 407.07,240.18 408.05,240.36 409.02,240.53 410.00,240.70 410.98,240.87 411.95,241.04 412.93,241.22 413.91,241.39 414.89,241.56 415.87,241.73 416.84,241.89 417.82,242.06 418.80,242.23 419.77,242.39 420.75,242.56 421.73,242.72 422.71,242.88 423.69,243.05 424.66,243.21 425.64,243.37 426.62,243.53 427.60,243.69 428.57,243.84 429.55,244.00 430.53,244.16 431.50,244.31 432.48,244.46 433.46,244.62 434.44,244.77 435.42,244.92 436.39,245.07 437.37,245.21 438.35,245.36 439.33,245.51 440.30,245.65 441.28,245.79 442.26,245.94 443.24,246.08 444.21,246.22 445.19,246.36 446.17,246.49 447.15,246.63 448.12,246.77 449.10,246.90 449.10,289.60 448.12,288.97 447.15,288.35 446.17,287.71 445.19,287.08 444.21,286.44 443.24,285.80 442.26,285.16 441.28,284.51 440.30,283.87 439.33,283.21 438.35,282.56 437.37,281.90 436.39,281.24 435.42,280.58 434.44,279.92 433.46,279.25 432.48,278.58 431.50,277.91 430.53,277.23 429.55,276.55 428.57,275.87 427.60,275.19 426.62,274.50 425.64,273.82 424.66,273.13 423.69,272.43 422.71,271.74 421.73,271.04 420.75,270.34 419.77,269.64 418.80,268.93 417.82,268.23 416.84,267.52 415.87,266.81 414.89,266.10 413.91,265.38 412.93,264.66 411.95,263.94 410.98,263.22 410.00,262.50 409.02,261.77 408.05,261.03 407.07,260.27 406.10,259.50 405.12,258.72 404.15,257.94 403.18,257.14 402.20,256.34 401.23,255.53 400.25,254.71 399.27,253.90 398.30,253.08 397.32,252.25 396.35,251.43 395.38,250.61 394.40,249.79 393.43,248.97 392.45,248.16 391.48,247.35 390.50,246.55 389.53,245.75 388.55,244.96 387.57,244.19 386.60,243.42 385.62,242.67 384.65,241.92 383.68,241.19 382.70,240.48 381.73,239.78 380.75,239.10 379.78,238.44 378.80,237.80 377.82,237.17 376.83,236.55 375.85,235.95 374.86,235.35 373.88,234.77 372.89,234.20 371.91,233.64 370.92,233.10 369.94,232.56 368.95,232.03 367.97,231.51 366.98,231.00 366.00,230.50 365.10,230.20 364.20,229.91 363.30,229.62 362.40,229.34 361.50,229.06 360.60,228.80 359.70,228.54 358.80,228.30 357.82,228.04 356.83,227.79 355.85,227.55 354.86,227.31 353.88,227.08 352.89,226.85 351.91,226.63 350.92,226.41 349.94,226.20 348.95,225.99 347.97,225.79 346.98,225.59 346.00,225.40 345.04,225.22 344.08,225.03 343.12,224.85 342.16,224.68 341.20,224.50 340.24,224.33 339.28,224.16 338.32,224.00 337.36,223.84 336.40,223.68 335.44,223.52 334.48,223.36 333.52,223.21 332.56,223.06 331.60,222.91 330.64,222.76 329.68,222.62 328.72,222.48 327.76,222.34 326.80,222.20 325.81,222.06 324.81,221.92 323.82,221.79 322.83,221.66 321.83,221.53 320.84,221.40 319.85,221.28 318.86,221.15 317.86,221.03 316.87,220.91 315.88,220.79 314.88,220.67 313.89,220.56 312.90,220.44 311.90,220.33 310.91,220.21 309.92,220.10 308.92,219.98 307.93,219.87 306.94,219.75 305.94,219.64 304.95,219.53 303.96,219.41 302.97,219.29 301.97,219.18 300.98,219.06 299.99,218.94 298.99,218.82 298.00,218.70 297.03,218.58 296.07,218.46 295.10,218.34 294.13,218.22 293.17,218.10 292.20,217.98 291.23,217.86 290.27,217.74 289.30,217.62 288.33,217.50 287.37,217.38 286.40,217.26 285.43,217.14 284.47,217.02 283.50,216.90 282.53,216.77 281.57,216.65 280.60,216.53 279.63,216.41 278.67,216.29 277.70,216.17 276.73,216.04 275.77,215.92 274.80,215.80" fill="#ff0000" fill-opacity="0.11"/>
<path d="M266.40,230.50H457.40" stroke="#3a3a3a" stroke-width="0.85" stroke-dasharray="2.6,2.2" stroke-dashoffset="0.9" fill="none"/>
<polyline clip-path="url(#c11)" points="274.80,192.60 275.77,193.00 276.73,193.41 277.70,193.81 278.67,194.21 279.63,194.61 280.60,195.01 281.57,195.42 282.53,195.82 283.50,196.22 284.47,196.62 285.43,197.02 286.40,197.42 287.37,197.82 288.33,198.22 289.30,198.62 290.27,199.02 291.23,199.42 292.20,199.82 293.17,200.21 294.13,200.61 295.10,201.01 296.07,201.41 297.03,201.80 298.00,202.20 298.99,202.61 299.99,203.01 300.98,203.42 301.97,203.82 302.97,204.23 303.96,204.63 304.95,205.04 305.94,205.44 306.94,205.84 307.93,206.24 308.92,206.65 309.92,207.05 310.91,207.45 311.90,207.85 312.90,208.25 313.89,208.66 314.88,209.06 315.88,209.46 316.87,209.86 317.86,210.26 318.86,210.67 319.85,211.07 320.84,211.47 321.83,211.88 322.83,212.28 323.82,212.68 324.81,213.09 325.81,213.49 326.80,213.90 327.77,214.30 328.74,214.69 329.71,215.09 330.69,215.49 331.66,215.88 332.63,216.28 333.60,216.67 334.57,217.07 335.54,217.46 336.51,217.86 337.49,218.25 338.46,218.65 339.43,219.05 340.40,219.44 341.37,219.84 342.34,220.24 343.31,220.64 344.29,221.04 345.26,221.44 346.23,221.84 347.20,222.24 348.17,222.65 349.14,223.05 350.11,223.46 351.09,223.87 352.06,224.28 353.03,224.69 354.00,225.10 354.96,225.51 355.93,225.92 356.89,226.33 357.86,226.74 358.82,227.15 359.79,227.57 360.75,227.98 361.71,228.40 362.68,228.82 363.64,229.25 364.61,229.68 365.57,230.11 366.54,230.55 367.50,231.00 368.46,231.45 369.41,231.91 370.37,232.39 371.33,232.86 372.29,233.35 373.24,233.84 374.20,234.33 375.16,234.82 376.11,235.31 377.07,235.80 378.03,236.28 378.99,236.76 379.94,237.24 380.90,237.70 381.90,238.18 382.90,238.65 383.90,239.12 384.90,239.59 385.90,240.06 386.90,240.52 387.90,240.98 388.90,241.44 389.90,241.90 390.90,242.36 391.90,242.81 392.90,243.26 393.90,243.71 394.90,244.16 395.90,244.61 396.90,245.06 397.90,245.51 398.90,245.96 399.90,246.41 400.90,246.85 401.90,247.30 402.90,247.75 403.90,248.20 404.90,248.65 405.90,249.10 406.90,249.55 407.90,250.00 408.90,250.45 409.89,250.90 410.89,251.35 411.89,251.80 412.88,252.25 413.88,252.70 414.87,253.15 415.87,253.60 416.87,254.05 417.86,254.50 418.86,254.94 419.86,255.39 420.85,255.84 421.85,256.29 422.84,256.74 423.84,257.18 424.84,257.63 425.83,258.08 426.83,258.52 427.83,258.97 428.82,259.42 429.82,259.87 430.81,260.31 431.81,260.76 432.81,261.21 433.80,261.65 434.80,262.10 435.75,262.53 436.71,262.95 437.66,263.38 438.61,263.81 439.57,264.24 440.52,264.66 441.47,265.09 442.43,265.52 443.38,265.94 444.33,266.37 445.29,266.80 446.24,267.22 447.19,267.65 448.15,268.07 449.10,268.50" fill="none" stroke="#ff0000" stroke-width="1.6" stroke-linejoin="round" stroke-linecap="butt"/>
<rect x="266.40" y="163.20" width="191.00" height="133.00" fill="none" stroke="#6b6b6b" stroke-width="1.1"/>
<path d="M299.30,296.20v2.7 M353.74,296.20v2.7 M408.17,296.20v2.7 M266.40,163.70h-2.7 M266.40,197.10h-2.7 M266.40,230.50h-2.7 M266.40,263.90h-2.7" stroke="#6b6b6b" stroke-width="1" fill="none"/>
<text class="tl" transform="translate(298.90,307.20) scale(0.85,1)" text-anchor="middle">0</text>
<text class="tl" transform="translate(353.34,307.20) scale(0.85,1)" text-anchor="middle">2</text>
<text class="tl" transform="translate(407.77,307.20) scale(0.85,1)" text-anchor="middle">4</text>
<text class="tl" transform="translate(262.60,167.10) scale(0.87,1)" text-anchor="end">0.08</text>
<text class="tl" transform="translate(262.60,200.50) scale(0.87,1)" text-anchor="end">0.04</text>
<text class="tl" transform="translate(262.60,233.90) scale(0.87,1)" text-anchor="end">0.00</text>
<text class="tl" transform="translate(262.60,267.30) scale(0.87,1)" text-anchor="end">-0.04</text>
<text class="at" transform="translate(361.90,317.20) scale(1,1.15)" text-anchor="middle">Thiocyanate(ln ng/mL)</text>
<text class="at" transform="translate(243.20,229.70) rotate(-90) scale(0.98,1.05)" text-anchor="middle">β(95%CI) for GLB(ln g/dL)</text>
<text class="pt" x="320.80" y="185.50">P-overall < 0.0001</text>
<text class="pt" x="319.50" y="201.50">P-nonlinear = 0.839</text>
</g>
<g>
<clipPath id="c12"><rect x="493.60" y="163.10" width="190.20" height="132.90"/></clipPath>
<path d="M499.26,163.10V296.00 M553.47,163.10V296.00 M607.67,163.10V296.00 M661.87,163.10V296.00 M493.60,196.60H683.80 M493.60,241.60H683.80 M493.60,286.60H683.80" stroke="#ebebeb" stroke-width="0.7" fill="none"/>
<path d="M526.37,163.10V296.00 M580.57,163.10V296.00 M634.77,163.10V296.00 M493.60,174.10H683.80 M493.60,219.10H683.80 M493.60,264.10H683.80" stroke="#ebebeb" stroke-width="1" fill="none"/>
<polygon clip-path="url(#c12)" points="501.30,184.60 502.29,185.02 503.28,185.43 504.27,185.85 505.25,186.26 506.24,186.67 507.23,187.08 508.22,187.49 509.21,187.90 510.20,188.31 511.18,188.72 512.17,189.12 513.16,189.53 514.15,189.93 515.14,190.34 516.13,190.74 517.12,191.14 518.10,191.54 519.09,191.94 520.08,192.34 521.07,192.74 522.06,193.13 523.05,193.53 524.03,193.92 525.02,194.32 526.01,194.71 527.00,195.10 527.98,195.49 528.96,195.87 529.93,196.25 530.91,196.63 531.89,197.01 532.87,197.39 533.84,197.77 534.82,198.15 535.80,198.52 536.78,198.90 537.76,199.27 538.73,199.65 539.71,200.02 540.69,200.39 541.67,200.76 542.64,201.13 543.62,201.50 544.60,201.87 545.58,202.24 546.56,202.61 547.53,202.98 548.51,203.35 549.49,203.72 550.47,204.09 551.44,204.46 552.42,204.83 553.40,205.20 554.38,205.57 555.36,205.95 556.35,206.33 557.33,206.71 558.31,207.09 559.29,207.47 560.27,207.86 561.25,208.24 562.24,208.62 563.22,209.00 564.20,209.38 565.18,209.76 566.16,210.14 567.15,210.51 568.13,210.87 569.11,211.24 570.09,211.60 571.07,211.95 572.05,212.30 573.04,212.64 574.02,212.97 575.00,213.30 575.98,213.62 576.96,213.94 577.93,214.25 578.91,214.56 579.89,214.87 580.87,215.17 581.84,215.47 582.82,215.76 583.80,216.05 584.78,216.34 585.76,216.62 586.73,216.90 587.71,217.18 588.69,217.45 589.67,217.72 590.64,217.98 591.62,218.24 592.60,218.50 593.52,218.28 594.45,218.05 595.38,217.79 596.30,217.52 597.23,217.24 598.15,216.94 599.08,216.62 600.00,216.30 601.00,215.93 602.00,215.53 603.00,215.11 604.00,214.66 605.00,214.19 606.00,213.70 607.00,213.20 607.99,212.67 608.97,212.10 609.96,211.49 610.94,210.87 611.93,210.24 612.91,209.61 613.90,209.00 614.90,208.39 615.89,207.78 616.89,207.17 617.88,206.56 618.88,205.95 619.88,205.34 620.87,204.73 621.87,204.12 622.86,203.51 623.86,202.89 624.85,202.28 625.85,201.67 626.85,201.06 627.84,200.44 628.84,199.83 629.83,199.22 630.83,198.60 631.82,197.99 632.82,197.37 633.82,196.76 634.81,196.15 635.81,195.53 636.80,194.92 637.80,194.30 638.80,193.68 639.80,193.07 640.80,192.46 641.80,191.85 642.80,191.24 643.80,190.64 644.80,190.03 645.80,189.43 646.80,188.82 647.80,188.21 648.80,187.61 649.80,187.00 650.80,186.39 651.80,185.77 652.80,185.16 653.80,184.54 654.80,183.91 655.80,183.28 656.80,182.65 657.80,182.01 658.80,181.37 659.80,180.72 660.80,180.06 661.80,179.40 662.76,178.75 663.73,178.10 664.69,177.44 665.66,176.77 666.62,176.10 667.59,175.41 668.55,174.73 669.51,174.04 670.48,173.34 671.44,172.64 672.41,171.94 673.37,171.23 674.34,170.52 675.30,169.80 675.30,264.30 674.34,263.88 673.37,263.46 672.41,263.03 671.44,262.59 670.48,262.16 669.51,261.72 668.55,261.27 667.59,260.82 666.62,260.36 665.66,259.90 664.69,259.43 663.73,258.96 662.76,258.48 661.80,258.00 660.80,257.49 659.80,256.98 658.80,256.46 657.80,255.94 656.80,255.41 655.80,254.88 654.80,254.34 653.80,253.80 652.80,253.26 651.80,252.71 650.80,252.15 649.80,251.59 648.80,251.03 647.80,250.46 646.80,249.89 645.80,249.32 644.80,248.74 643.80,248.16 642.80,247.57 641.80,246.98 640.80,246.39 639.80,245.80 638.80,245.20 637.80,244.60 636.80,243.99 635.81,243.38 634.81,242.75 633.82,242.12 632.82,241.47 631.82,240.82 630.83,240.16 629.83,239.50 628.84,238.83 627.84,238.16 626.85,237.49 625.85,236.82 624.85,236.15 623.86,235.47 622.86,234.80 621.87,234.13 620.87,233.47 619.88,232.81 618.88,232.15 617.88,231.51 616.89,230.87 615.89,230.23 614.90,229.61 613.90,229.00 612.91,228.39 611.91,227.77 610.92,227.14 609.93,226.52 608.94,225.89 607.94,225.27 606.95,224.66 605.96,224.07 604.96,223.49 603.97,222.93 602.98,222.40 601.99,221.90 600.99,221.43 600.00,221.00 599.08,220.62 598.15,220.27 597.23,219.93 596.30,219.60 595.38,219.30 594.45,219.01 593.52,218.75 592.60,218.50 591.62,219.07 590.64,219.64 589.67,220.21 588.69,220.79 587.71,221.38 586.73,221.97 585.76,222.57 584.78,223.17 583.80,223.78 582.82,224.40 581.84,225.02 580.87,225.64 579.89,226.27 578.91,226.91 577.93,227.55 576.96,228.19 575.98,228.84 575.00,229.50 574.02,230.17 573.04,230.84 572.05,231.51 571.07,232.20 570.09,232.89 569.11,233.58 568.13,234.29 567.15,234.99 566.16,235.71 565.18,236.42 564.20,237.15 563.22,237.87 562.24,238.61 561.25,239.35 560.27,240.09 559.29,240.83 558.31,241.59 557.33,242.34 556.35,243.10 555.36,243.86 554.38,244.63 553.40,245.40 552.42,246.17 551.44,246.96 550.47,247.75 549.49,248.54 548.51,249.35 547.53,250.16 546.56,250.98 545.58,251.80 544.60,252.63 543.62,253.46 542.64,254.30 541.67,255.14 540.69,255.98 539.71,256.83 538.73,257.67 537.76,258.52 536.78,259.37 535.80,260.22 534.82,261.07 533.84,261.92 532.87,262.77 531.89,263.61 530.91,264.46 529.93,265.30 528.96,266.14 527.98,266.97 527.00,267.80 526.01,268.64 525.02,269.47 524.03,270.31 523.05,271.15 522.06,271.98 521.07,272.82 520.08,273.65 519.09,274.49 518.10,275.32 517.12,276.16 516.13,276.99 515.14,277.83 514.15,278.66 513.16,279.50 512.17,280.33 511.18,281.17 510.20,282.00 509.21,282.83 508.22,283.67 507.23,284.50 506.24,285.34 505.25,286.17 504.27,287.00 503.28,287.83 502.29,288.67 501.30,289.50" fill="#ff0000" fill-opacity="0.11"/>
<path d="M493.60,219.10H683.80" stroke="#3a3a3a" stroke-width="0.85" stroke-dasharray="2.6,2.2" stroke-dashoffset="0.9" fill="none"/>
<polyline clip-path="url(#c12)" points="501.30,237.10 502.29,236.88 503.28,236.67 504.27,236.45 505.25,236.24 506.24,236.03 507.23,235.81 508.22,235.60 509.21,235.39 510.20,235.17 511.18,234.96 512.17,234.75 513.16,234.54 514.15,234.33 515.14,234.11 516.13,233.90 517.12,233.69 518.10,233.48 519.09,233.27 520.08,233.06 521.07,232.85 522.06,232.64 523.05,232.43 524.03,232.23 525.02,232.02 526.01,231.81 527.00,231.60 528.00,231.39 529.00,231.18 530.00,230.98 531.00,230.77 532.00,230.57 533.00,230.37 534.00,230.16 535.00,229.96 536.00,229.75 537.00,229.54 538.00,229.33 539.00,229.12 540.00,228.90 540.97,228.68 541.95,228.47 542.92,228.24 543.89,228.02 544.87,227.79 545.84,227.56 546.81,227.33 547.79,227.10 548.76,226.87 549.73,226.64 550.71,226.41 551.68,226.18 552.65,225.95 553.63,225.72 554.60,225.50 555.57,225.28 556.55,225.05 557.52,224.82 558.49,224.60 559.47,224.37 560.44,224.14 561.41,223.92 562.39,223.69 563.36,223.47 564.33,223.25 565.31,223.03 566.28,222.82 567.25,222.61 568.23,222.40 569.20,222.20 570.17,222.00 571.15,221.80 572.12,221.60 573.09,221.41 574.07,221.21 575.04,221.02 576.01,220.82 576.99,220.64 577.96,220.46 578.93,220.28 579.91,220.11 580.88,219.94 581.85,219.79 582.83,219.64 583.80,219.50 584.78,219.37 585.76,219.24 586.73,219.11 587.71,218.99 588.69,218.88 589.67,218.77 590.64,218.68 591.62,218.58 592.60,218.50 593.54,218.43 594.47,218.36 595.41,218.29 596.34,218.22 597.28,218.16 598.21,218.10 599.15,218.05 600.09,217.99 601.02,217.94 601.96,217.89 602.89,217.84 603.83,217.79 604.76,217.75 605.70,217.70 606.67,217.65 607.65,217.60 608.62,217.56 609.59,217.51 610.57,217.46 611.54,217.42 612.51,217.37 613.49,217.33 614.46,217.29 615.43,217.25 616.41,217.22 617.38,217.18 618.35,217.15 619.33,217.12 620.30,217.10 621.28,217.08 622.27,217.06 623.25,217.04 624.24,217.01 625.22,216.99 626.21,216.98 627.19,216.96 628.18,216.94 629.16,216.92 630.15,216.91 631.13,216.89 632.12,216.88 633.11,216.86 634.09,216.85 635.08,216.84 636.06,216.83 637.04,216.82 638.03,216.81 639.01,216.81 640.00,216.80 640.98,216.80 641.96,216.79 642.94,216.79 643.92,216.78 644.90,216.78 645.88,216.77 646.86,216.77 647.84,216.76 648.83,216.76 649.81,216.76 650.79,216.75 651.77,216.75 652.75,216.74 653.73,216.74 654.71,216.74 655.69,216.73 656.67,216.73 657.65,216.73 658.63,216.72 659.61,216.72 660.59,216.72 661.57,216.72 662.55,216.71 663.53,216.71 664.51,216.71 665.49,216.71 666.47,216.71 667.46,216.71 668.44,216.70 669.42,216.70 670.40,216.70 671.38,216.70 672.36,216.70 673.34,216.70 674.32,216.70 675.30,216.70" fill="none" stroke="#ff0000" stroke-width="1.6" stroke-linejoin="round" stroke-linecap="butt"/>
<rect x="493.60" y="163.10" width="190.20" height="132.90" fill="none" stroke="#6b6b6b" stroke-width="1.1"/>
<path d="M526.37,296.00v2.7 M580.57,296.00v2.7 M634.77,296.00v2.7 M493.60,174.10h-2.7 M493.60,219.10h-2.7 M493.60,264.10h-2.7" stroke="#6b6b6b" stroke-width="1" fill="none"/>
<text class="tl" transform="translate(525.97,307.00) scale(0.85,1)" text-anchor="middle">0</text>
<text class="tl" transform="translate(580.17,307.00) scale(0.85,1)" text-anchor="middle">2</text>
<text class="tl" transform="translate(634.37,307.00) scale(0.85,1)" text-anchor="middle">4</text>
<text class="tl" transform="translate(489.80,177.50) scale(0.87,1)" text-anchor="end">0.1</text>
<text class="tl" transform="translate(489.80,222.50) scale(0.87,1)" text-anchor="end">0.0</text>
<text class="tl" transform="translate(489.80,267.50) scale(0.87,1)" text-anchor="end">-0.1</text>
<text class="at" transform="translate(588.70,317.00) scale(1,1.15)" text-anchor="middle">Thiocyanate(ln ng/mL)</text>
<text class="at" transform="translate(473.00,229.55) rotate(-90) scale(0.98,1.05)" text-anchor="middle">β(95%CI) for GGT(ln IU/L)</text>
<text class="pt" x="555.90" y="179.00">P-overall < 0.0001</text>
<text class="pt" x="554.70" y="192.10">P-nonlinear = 0.726</text>
</g>
<g>
<clipPath id="c20"><rect x="35.30" y="325.80" width="191.30" height="132.60"/></clipPath>
<path d="M41.00,325.80V458.40 M95.51,325.80V458.40 M150.03,325.80V458.40 M204.55,325.80V458.40 M35.30,345.35H226.60 M35.30,372.45H226.60 M35.30,399.55H226.60 M35.30,426.65H226.60 M35.30,453.75H226.60" stroke="#ebebeb" stroke-width="0.7" fill="none"/>
<path d="M68.26,325.80V458.40 M122.77,325.80V458.40 M177.29,325.80V458.40 M35.30,331.80H226.60 M35.30,358.90H226.60 M35.30,386.00H226.60 M35.30,413.10H226.60 M35.30,440.20H226.60" stroke="#ebebeb" stroke-width="1" fill="none"/>
<polygon clip-path="url(#c20)" points="44.10,332.50 45.08,333.48 46.05,334.45 47.03,335.43 48.00,336.40 48.98,337.37 49.96,338.33 50.93,339.30 51.91,340.26 52.88,341.22 53.86,342.18 54.84,343.14 55.81,344.09 56.79,345.05 57.76,346.00 58.74,346.94 59.72,347.89 60.69,348.83 61.67,349.78 62.64,350.71 63.62,351.65 64.60,352.59 65.57,353.52 66.55,354.45 67.52,355.37 68.50,356.30 69.50,357.24 70.50,358.19 71.50,359.12 72.50,360.06 73.50,360.99 74.50,361.91 75.50,362.84 76.50,363.76 77.50,364.68 78.50,365.60 79.50,366.51 80.50,367.43 81.50,368.34 82.50,369.25 83.50,370.16 84.50,371.07 85.50,371.98 86.50,372.89 87.50,373.80 88.50,374.71 89.50,375.62 90.50,376.53 91.50,377.44 92.50,378.35 93.50,379.27 94.50,380.18 95.50,381.10 96.46,381.98 97.42,382.87 98.38,383.76 99.34,384.65 100.31,385.55 101.27,386.44 102.23,387.33 103.19,388.23 104.15,389.12 105.11,390.01 106.07,390.90 107.03,391.78 107.99,392.66 108.96,393.54 109.92,394.41 110.88,395.28 111.84,396.14 112.80,397.00 113.74,397.84 114.68,398.70 115.62,399.56 116.55,400.43 117.49,401.29 118.43,402.15 119.37,402.99 120.31,403.82 121.25,404.63 122.18,405.40 123.12,406.14 124.06,406.84 125.00,407.50 126.00,408.17 127.00,408.83 128.00,409.47 129.00,410.07 130.00,410.61 131.00,411.10 132.00,411.50 133.00,411.85 134.00,412.18 135.00,412.48 136.00,412.73 137.00,412.94 138.00,413.10 138.97,413.05 139.93,412.96 140.90,412.83 141.87,412.67 142.83,412.49 143.80,412.29 144.77,412.07 145.73,411.84 146.70,411.60 147.68,411.31 148.67,410.94 149.65,410.52 150.63,410.08 151.62,409.63 152.60,409.20 153.57,408.80 154.53,408.41 155.50,408.02 156.47,407.63 157.43,407.24 158.40,406.84 159.37,406.44 160.33,406.03 161.30,405.62 162.27,405.19 163.23,404.75 164.20,404.30 165.19,403.82 166.17,403.33 167.16,402.83 168.15,402.32 169.14,401.79 170.12,401.26 171.11,400.71 172.10,400.16 173.09,399.60 174.07,399.03 175.06,398.46 176.05,397.87 177.04,397.29 178.03,396.70 179.01,396.10 180.00,395.50 180.99,394.89 181.98,394.27 182.97,393.63 183.96,392.98 184.94,392.32 185.93,391.65 186.92,390.98 187.91,390.30 188.90,389.61 189.89,388.93 190.88,388.24 191.87,387.55 192.86,386.86 193.84,386.18 194.83,385.50 195.82,384.82 196.81,384.16 197.80,383.50 198.78,382.85 199.77,382.20 200.75,381.56 201.74,380.91 202.72,380.27 203.71,379.62 204.69,378.98 205.67,378.34 206.66,377.70 207.64,377.07 208.63,376.43 209.61,375.80 210.59,375.17 211.58,374.53 212.56,373.90 213.55,373.28 214.53,372.65 215.52,372.02 216.50,371.40 216.50,451.90 215.52,451.37 214.53,450.85 213.55,450.32 212.56,449.80 211.58,449.28 210.59,448.76 209.61,448.24 208.63,447.72 207.64,447.20 206.66,446.69 205.67,446.17 204.69,445.66 203.71,445.15 202.72,444.64 201.74,444.13 200.75,443.62 199.77,443.11 198.78,442.60 197.80,442.10 196.81,441.59 195.82,441.09 194.83,440.59 193.84,440.09 192.85,439.59 191.86,439.09 190.87,438.60 189.88,438.10 188.89,437.61 187.90,437.12 186.90,436.62 185.91,436.13 184.92,435.64 183.93,435.15 182.94,434.66 181.95,434.17 180.96,433.67 179.97,433.18 178.98,432.69 177.99,432.19 177.00,431.70 176.01,431.20 175.02,430.70 174.03,430.20 173.04,429.69 172.05,429.19 171.06,428.68 170.07,428.17 169.08,427.66 168.09,427.15 167.10,426.64 166.10,426.14 165.11,425.63 164.12,425.13 163.13,424.63 162.14,424.14 161.15,423.65 160.16,423.17 159.17,422.69 158.18,422.22 157.19,421.76 156.20,421.30 155.23,420.86 154.25,420.44 153.28,420.03 152.31,419.63 151.33,419.24 150.36,418.85 149.39,418.46 148.41,418.07 147.44,417.68 146.47,417.28 145.49,416.88 144.52,416.46 143.55,416.02 142.57,415.57 141.60,415.10 140.70,414.64 139.80,414.14 138.90,413.62 138.00,413.10 137.02,413.16 136.05,413.22 135.07,413.28 134.09,413.34 133.12,413.40 132.14,413.47 131.16,413.53 130.19,413.59 129.21,413.66 128.24,413.72 127.26,413.79 126.28,413.86 125.31,413.92 124.33,413.99 123.35,414.06 122.38,414.13 121.40,414.20 120.40,414.27 119.41,414.35 118.41,414.42 117.42,414.50 116.42,414.58 115.42,414.65 114.43,414.73 113.43,414.81 112.43,414.89 111.44,414.97 110.44,415.06 109.45,415.14 108.45,415.22 107.45,415.30 106.46,415.39 105.46,415.47 104.47,415.55 103.47,415.64 102.47,415.72 101.48,415.81 100.48,415.89 99.48,415.97 98.49,416.05 97.49,416.14 96.50,416.22 95.50,416.30 94.50,416.38 93.50,416.46 92.50,416.54 91.50,416.61 90.50,416.69 89.50,416.77 88.50,416.84 87.50,416.92 86.50,416.99 85.50,417.07 84.50,417.14 83.50,417.22 82.50,417.29 81.50,417.37 80.50,417.45 79.50,417.52 78.50,417.60 77.50,417.68 76.50,417.77 75.50,417.85 74.50,417.94 73.50,418.02 72.50,418.11 71.50,418.21 70.50,418.30 69.50,418.40 68.50,418.50 67.52,418.60 66.55,418.71 65.57,418.81 64.60,418.92 63.62,419.04 62.64,419.15 61.67,419.27 60.69,419.39 59.72,419.52 58.74,419.64 57.76,419.77 56.79,419.90 55.81,420.04 54.84,420.17 53.86,420.31 52.88,420.45 51.91,420.60 50.93,420.74 49.96,420.89 48.98,421.03 48.00,421.18 47.03,421.34 46.05,421.49 45.08,421.64 44.10,421.80" fill="#ff0000" fill-opacity="0.11"/>
<path d="M35.30,413.10H226.60" stroke="#3a3a3a" stroke-width="0.85" stroke-dasharray="2.6,2.2" stroke-dashoffset="0.9" fill="none"/>
<polyline clip-path="url(#c20)" points="44.10,377.40 45.08,377.80 46.05,378.20 47.03,378.59 48.00,378.99 48.98,379.39 49.96,379.79 50.93,380.19 51.91,380.59 52.88,380.99 53.86,381.39 54.84,381.79 55.81,382.19 56.79,382.59 57.76,382.99 58.74,383.39 59.72,383.79 60.69,384.19 61.67,384.59 62.64,384.99 63.62,385.39 64.60,385.79 65.57,386.19 66.55,386.60 67.52,387.00 68.50,387.40 69.50,387.81 70.50,388.23 71.50,388.64 72.50,389.05 73.50,389.47 74.50,389.88 75.50,390.29 76.50,390.71 77.50,391.12 78.50,391.54 79.50,391.95 80.50,392.37 81.50,392.78 82.50,393.20 83.50,393.61 84.50,394.03 85.50,394.44 86.50,394.86 87.50,395.27 88.50,395.69 89.50,396.11 90.50,396.52 91.50,396.94 92.50,397.35 93.50,397.77 94.50,398.18 95.50,398.60 96.46,399.00 97.42,399.40 98.38,399.80 99.35,400.21 100.31,400.61 101.27,401.01 102.23,401.41 103.19,401.81 104.15,402.22 105.12,402.61 106.08,403.01 107.04,403.41 108.00,403.80 109.00,404.21 110.00,404.62 111.00,405.03 112.00,405.45 113.00,405.86 114.00,406.26 115.00,406.66 116.00,407.05 117.00,407.43 118.00,407.80 119.00,408.16 120.00,408.53 121.00,408.88 122.00,409.23 123.00,409.58 124.00,409.91 125.00,410.22 126.00,410.52 127.00,410.80 128.00,411.06 129.00,411.32 130.00,411.56 131.00,411.79 132.00,412.02 133.00,412.22 134.00,412.42 135.00,412.60 135.97,412.77 136.95,412.94 137.93,413.11 138.90,413.28 139.88,413.44 140.85,413.59 141.82,413.73 142.80,413.86 143.77,413.97 144.75,414.07 145.72,414.15 146.70,414.20 147.67,414.24 148.65,414.28 149.62,414.32 150.60,414.35 151.57,414.38 152.55,414.41 153.53,414.44 154.50,414.46 155.47,414.48 156.45,414.49 157.43,414.50 158.40,414.50 159.37,414.49 160.33,414.48 161.30,414.45 162.27,414.41 163.23,414.37 164.20,414.32 165.17,414.26 166.13,414.21 167.10,414.15 168.07,414.10 169.03,414.05 170.00,414.00 171.00,413.95 172.00,413.91 173.00,413.86 174.00,413.81 175.00,413.76 176.00,413.71 177.00,413.66 178.00,413.60 179.00,413.55 180.00,413.50 180.99,413.45 181.98,413.40 182.97,413.34 183.96,413.29 184.95,413.24 185.94,413.19 186.93,413.14 187.92,413.08 188.91,413.03 189.90,412.98 190.89,412.92 191.88,412.87 192.87,412.81 193.86,412.76 194.85,412.70 195.84,412.64 196.83,412.58 197.82,412.52 198.81,412.46 199.80,412.40 200.78,412.34 201.76,412.27 202.75,412.21 203.73,412.14 204.71,412.08 205.69,412.01 206.68,411.94 207.66,411.87 208.64,411.80 209.62,411.73 210.61,411.65 211.59,411.58 212.57,411.51 213.55,411.43 214.54,411.35 215.52,411.28 216.50,411.20" fill="none" stroke="#ff0000" stroke-width="1.6" stroke-linejoin="round" stroke-linecap="butt"/>
<rect x="35.30" y="325.80" width="191.30" height="132.60" fill="none" stroke="#6b6b6b" stroke-width="1.1"/>
<path d="M68.26,458.40v2.7 M122.77,458.40v2.7 M177.29,458.40v2.7 M35.30,331.80h-2.7 M35.30,358.90h-2.7 M35.30,386.00h-2.7 M35.30,413.10h-2.7 M35.30,440.20h-2.7" stroke="#6b6b6b" stroke-width="1" fill="none"/>
<text class="tl" transform="translate(67.86,469.40) scale(0.85,1)" text-anchor="middle">0</text>
<text class="tl" transform="translate(122.37,469.40) scale(0.85,1)" text-anchor="middle">2</text>
<text class="tl" transform="translate(176.89,469.40) scale(0.85,1)" text-anchor="middle">4</text>
<text class="tl" transform="translate(31.50,335.20) scale(0.87,1)" text-anchor="end">0.075</text>
<text class="tl" transform="translate(31.50,362.30) scale(0.87,1)" text-anchor="end">0.050</text>
<text class="tl" transform="translate(31.50,389.40) scale(0.87,1)" text-anchor="end">0.025</text>
<text class="tl" transform="translate(31.50,416.50) scale(0.87,1)" text-anchor="end">0.000</text>
<text class="tl" transform="translate(31.50,443.60) scale(0.87,1)" text-anchor="end">-0.025</text>
<text class="at" transform="translate(130.95,479.40) scale(1,1.15)" text-anchor="middle">Thiocyanate(ln ng/mL)</text>
<text class="at" transform="translate(6.40,392.10) rotate(-90) scale(0.98,1.05)" text-anchor="middle">β(95%CI) for LDH(ln IU/L)</text>
<text class="pt" x="89.90" y="341.50">P-overall < 0.0001</text>
<text class="pt" x="88.70" y="352.70">P-nonlinear = 0.342</text>
</g>
<g>
<clipPath id="c21"><rect x="261.80" y="325.50" width="191.60" height="133.00"/></clipPath>
<path d="M267.51,325.50V458.50 M322.11,325.50V458.50 M376.71,325.50V458.50 M431.31,325.50V458.50 M261.80,335.15H453.40 M261.80,363.85H453.40 M261.80,392.55H453.40 M261.80,421.25H453.40 M261.80,449.95H453.40" stroke="#ebebeb" stroke-width="0.7" fill="none"/>
<path d="M294.81,325.50V458.50 M349.41,325.50V458.50 M404.01,325.50V458.50 M261.80,349.50H453.40 M261.80,378.20H453.40 M261.80,406.90H453.40 M261.80,435.60H453.40" stroke="#ebebeb" stroke-width="1" fill="none"/>
<polygon clip-path="url(#c21)" points="270.50,336.30 271.47,336.33 272.44,336.37 273.42,336.41 274.39,336.46 275.36,336.51 276.33,336.57 277.30,336.63 278.28,336.70 279.25,336.77 280.22,336.84 281.19,336.92 282.16,337.00 283.14,337.08 284.11,337.17 285.08,337.26 286.05,337.36 287.02,337.45 288.00,337.55 288.97,337.65 289.94,337.76 290.91,337.86 291.88,337.97 292.86,338.08 293.83,338.19 294.80,338.30 295.79,338.42 296.78,338.55 297.77,338.70 298.76,338.85 299.75,339.02 300.74,339.19 301.73,339.37 302.71,339.56 303.70,339.76 304.69,339.96 305.68,340.17 306.67,340.38 307.66,340.60 308.65,340.82 309.64,341.04 310.63,341.26 311.62,341.48 312.61,341.70 313.60,341.92 314.59,342.14 315.57,342.35 316.56,342.57 317.55,342.77 318.54,342.97 319.53,343.16 320.52,343.35 321.51,343.53 322.50,343.70 323.46,343.87 324.43,344.04 325.39,344.22 326.35,344.40 327.31,344.58 328.27,344.76 329.24,344.94 330.20,345.11 331.16,345.27 332.12,345.42 333.09,345.56 334.05,345.69 335.01,345.80 335.97,345.89 336.94,345.96 337.90,346.00 338.82,346.03 339.74,346.06 340.65,346.08 341.57,346.11 342.49,346.13 343.41,346.15 344.33,346.17 345.25,346.18 346.16,346.19 347.08,346.20 348.00,346.20 348.93,346.21 349.87,346.22 350.80,346.25 351.73,346.29 352.67,346.34 353.60,346.40 354.53,346.46 355.47,346.53 356.40,346.60 357.34,346.70 358.27,346.85 359.21,347.05 360.15,347.28 361.08,347.55 362.02,347.85 362.95,348.17 363.89,348.51 364.83,348.87 365.76,349.23 366.70,349.60 367.63,350.00 368.56,350.45 369.49,350.95 370.42,351.48 371.35,352.06 372.28,352.66 373.21,353.28 374.14,353.91 375.07,354.56 376.00,355.20 376.98,355.89 377.95,356.63 378.93,357.39 379.91,358.19 380.88,359.01 381.86,359.84 382.84,360.70 383.81,361.56 384.79,362.43 385.76,363.31 386.74,364.18 387.72,365.04 388.69,365.90 389.67,366.73 390.65,367.55 391.62,368.34 392.60,369.10 393.58,369.85 394.56,370.58 395.55,371.31 396.53,372.04 397.51,372.75 398.49,373.46 399.48,374.16 400.46,374.85 401.44,375.54 402.42,376.22 403.41,376.89 404.39,377.56 405.37,378.22 406.35,378.87 407.34,379.52 408.32,380.16 409.30,380.80 410.28,381.42 411.25,382.04 412.23,382.64 413.21,383.24 414.18,383.83 415.16,384.42 416.14,385.00 417.11,385.57 418.09,386.14 419.06,386.71 420.04,387.28 421.02,387.85 421.99,388.41 422.97,388.98 423.95,389.55 424.92,390.12 425.90,390.70 426.87,391.28 427.85,391.85 428.82,392.43 429.79,393.01 430.77,393.58 431.74,394.16 432.72,394.73 433.69,395.31 434.66,395.88 435.64,396.45 436.61,397.03 437.58,397.60 438.56,398.17 439.53,398.75 440.51,399.32 441.48,399.89 442.45,400.46 443.43,401.03 444.40,401.60 444.40,451.60 443.41,449.59 442.42,447.62 441.42,445.68 440.43,443.78 439.44,441.92 438.45,440.09 437.46,438.29 436.47,436.53 435.48,434.80 434.48,433.10 433.49,431.44 432.50,429.80 431.56,428.28 430.61,426.81 429.67,425.37 428.73,423.97 427.79,422.59 426.84,421.24 425.90,419.90 424.92,418.53 423.95,417.18 422.97,415.85 421.99,414.54 421.02,413.23 420.04,411.94 419.06,410.67 418.09,409.40 417.11,408.14 416.14,406.89 415.16,405.64 414.18,404.40 413.21,403.16 412.23,401.92 411.25,400.68 410.28,399.44 409.30,398.20 408.32,396.95 407.34,395.70 406.35,394.45 405.37,393.20 404.39,391.95 403.41,390.71 402.42,389.47 401.44,388.24 400.46,387.01 399.48,385.78 398.49,384.56 397.51,383.35 396.53,382.14 395.55,380.95 394.56,379.76 393.58,378.57 392.60,377.40 391.62,376.23 390.65,375.05 389.67,373.86 388.69,372.66 387.72,371.46 386.74,370.27 385.76,369.08 384.79,367.91 383.81,366.75 382.84,365.61 381.86,364.49 380.88,363.40 379.91,362.34 378.93,361.32 377.95,360.33 376.98,359.39 376.00,358.50 375.07,357.68 374.14,356.88 373.21,356.10 372.28,355.35 371.35,354.62 370.42,353.92 369.49,353.26 368.56,352.63 367.63,352.04 366.70,351.50 365.79,350.99 364.88,350.49 363.97,350.00 363.06,349.53 362.14,349.10 361.23,348.70 360.32,348.35 359.41,348.04 358.50,347.80 357.55,347.58 356.59,347.36 355.64,347.16 354.68,346.96 353.73,346.78 352.77,346.62 351.82,346.48 350.86,346.36 349.91,346.27 348.95,346.22 348.00,346.20 347.08,346.64 346.16,347.09 345.25,347.55 344.33,348.02 343.41,348.49 342.49,348.97 341.57,349.46 340.65,349.96 339.74,350.46 338.82,350.98 337.90,351.50 336.94,352.06 335.97,352.64 335.01,353.24 334.05,353.85 333.09,354.47 332.12,355.10 331.16,355.73 330.20,356.37 329.24,357.02 328.27,357.66 327.31,358.30 326.35,358.94 325.39,359.57 324.43,360.19 323.46,360.80 322.50,361.40 321.51,362.00 320.52,362.61 319.53,363.20 318.54,363.80 317.55,364.39 316.56,364.98 315.57,365.56 314.59,366.14 313.60,366.72 312.61,367.30 311.62,367.88 310.63,368.45 309.64,369.02 308.65,369.59 307.66,370.16 306.67,370.73 305.68,371.29 304.69,371.86 303.70,372.42 302.71,372.99 301.73,373.55 300.74,374.12 299.75,374.68 298.76,375.24 297.77,375.81 296.78,376.37 295.79,376.93 294.80,377.50 293.83,378.06 292.86,378.61 291.88,379.17 290.91,379.72 289.94,380.27 288.97,380.82 288.00,381.38 287.02,381.93 286.05,382.48 285.08,383.03 284.11,383.58 283.14,384.13 282.16,384.67 281.19,385.22 280.22,385.77 279.25,386.31 278.28,386.86 277.30,387.40 276.33,387.95 275.36,388.49 274.39,389.03 273.42,389.58 272.44,390.12 271.47,390.66 270.50,391.20" fill="#ff0000" fill-opacity="0.11"/>
<path d="M261.80,349.50H453.40" stroke="#3a3a3a" stroke-width="0.85" stroke-dasharray="2.6,2.2" stroke-dashoffset="0.9" fill="none"/>
<polyline clip-path="url(#c21)" points="270.50,363.70 271.48,363.41 272.46,363.13 273.44,362.85 274.42,362.57 275.40,362.29 276.38,362.01 277.36,361.74 278.34,361.46 279.32,361.19 280.30,360.92 281.28,360.65 282.26,360.39 283.24,360.12 284.22,359.86 285.20,359.60 286.18,359.34 287.16,359.08 288.14,358.83 289.12,358.57 290.10,358.32 291.08,358.07 292.06,357.83 293.04,357.58 294.02,357.34 295.00,357.10 296.00,356.86 297.00,356.62 298.00,356.38 299.00,356.15 300.00,355.92 301.00,355.69 302.00,355.47 303.00,355.24 304.00,355.02 305.00,354.80 306.00,354.58 307.00,354.37 308.00,354.15 309.00,353.93 310.00,353.72 311.00,353.50 312.00,353.29 313.00,353.07 314.00,352.85 315.00,352.64 316.00,352.42 317.00,352.20 318.00,351.98 319.00,351.75 320.00,351.53 321.00,351.30 321.97,351.07 322.95,350.84 323.92,350.61 324.89,350.37 325.86,350.13 326.84,349.90 327.81,349.67 328.78,349.44 329.75,349.22 330.73,349.00 331.70,348.80 332.68,348.60 333.65,348.39 334.62,348.18 335.60,347.97 336.57,347.77 337.55,347.57 338.52,347.39 339.50,347.21 340.47,347.05 341.45,346.91 342.42,346.79 343.40,346.70 344.40,346.62 345.40,346.54 346.40,346.46 347.40,346.40 348.40,346.35 349.40,346.31 350.40,346.30 351.30,346.32 352.20,346.37 353.10,346.45 354.00,346.55 354.90,346.68 355.80,346.82 356.70,346.97 357.60,347.14 358.50,347.30 359.41,347.49 360.32,347.72 361.23,347.99 362.14,348.30 363.06,348.63 363.97,348.99 364.88,349.38 365.79,349.78 366.70,350.20 367.63,350.67 368.56,351.20 369.49,351.78 370.42,352.41 371.35,353.08 372.28,353.78 373.21,354.50 374.14,355.23 375.07,355.97 376.00,356.70 376.91,357.43 377.82,358.19 378.73,358.97 379.64,359.78 380.56,360.60 381.47,361.43 382.38,362.28 383.29,363.14 384.20,364.00 385.13,364.89 386.07,365.80 387.00,366.72 387.93,367.65 388.87,368.60 389.80,369.56 390.73,370.53 391.67,371.51 392.60,372.50 393.58,373.56 394.56,374.64 395.55,375.74 396.53,376.85 397.51,377.98 398.49,379.12 399.48,380.26 400.46,381.42 401.44,382.57 402.42,383.73 403.41,384.88 404.39,386.03 405.37,387.17 406.35,388.30 407.34,389.41 408.32,390.52 409.30,391.60 410.28,392.66 411.25,393.72 412.23,394.78 413.21,395.82 414.18,396.86 415.16,397.90 416.14,398.93 417.11,399.95 418.09,400.97 419.06,401.99 420.04,403.00 421.02,404.01 421.99,405.01 422.97,406.01 423.95,407.01 424.92,408.01 425.90,409.00 426.87,409.99 427.85,410.97 428.82,411.95 429.79,412.93 430.77,413.91 431.74,414.88 432.72,415.85 433.69,416.81 434.66,417.77 435.64,418.73 436.61,419.69 437.58,420.64 438.56,421.59 439.53,422.53 440.51,423.47 441.48,424.41 442.45,425.34 443.43,426.27 444.40,427.20" fill="none" stroke="#ff0000" stroke-width="1.6" stroke-linejoin="round" stroke-linecap="butt"/>
<rect x="261.80" y="325.50" width="191.60" height="133.00" fill="none" stroke="#6b6b6b" stroke-width="1.1"/>
<path d="M294.81,458.50v2.7 M349.41,458.50v2.7 M404.01,458.50v2.7 M261.80,349.50h-2.7 M261.80,378.20h-2.7 M261.80,406.90h-2.7 M261.80,435.60h-2.7" stroke="#6b6b6b" stroke-width="1" fill="none"/>
<text class="tl" transform="translate(294.41,469.50) scale(0.85,1)" text-anchor="middle">0</text>
<text class="tl" transform="translate(349.01,469.50) scale(0.85,1)" text-anchor="middle">2</text>
<text class="tl" transform="translate(403.61,469.50) scale(0.85,1)" text-anchor="middle">4</text>
<text class="tl" transform="translate(258.00,352.90) scale(0.87,1)" text-anchor="end">0.0</text>
<text class="tl" transform="translate(258.00,381.60) scale(0.87,1)" text-anchor="end">-0.1</text>
<text class="tl" transform="translate(258.00,410.30) scale(0.87,1)" text-anchor="end">-0.2</text>
<text class="tl" transform="translate(258.00,439.00) scale(0.87,1)" text-anchor="end">-0.3</text>
<text class="at" transform="translate(357.60,479.50) scale(1,1.15)" text-anchor="middle">Thiocyanate(ln ng/mL)</text>
<text class="at" transform="translate(243.20,392.00) rotate(-90) scale(0.98,1.05)" text-anchor="middle">β(95%CI) for TBIL(ln mg/dL)</text>
<text class="pt" x="316.80" y="336.80">P-overall < 0.0001</text>
<text class="pt" x="311.00" y="345.50">P_nonlinera< 0.0001</text>
</g>
<g>
<clipPath id="c22"><rect x="493.30" y="325.80" width="190.70" height="132.80"/></clipPath>
<path d="M498.98,325.80V458.60 M553.33,325.80V458.60 M607.67,325.80V458.60 M662.02,325.80V458.60 M493.30,357.95H684.00 M493.30,396.25H684.00 M493.30,434.55H684.00" stroke="#ebebeb" stroke-width="0.7" fill="none"/>
<path d="M526.15,325.80V458.60 M580.50,325.80V458.60 M634.84,325.80V458.60 M493.30,338.80H684.00 M493.30,377.10H684.00 M493.30,415.40H684.00 M493.30,453.70H684.00" stroke="#ebebeb" stroke-width="1" fill="none"/>
<polygon clip-path="url(#c22)" points="501.60,332.20 502.60,332.80 503.59,333.40 504.59,333.99 505.59,334.58 506.58,335.17 507.58,335.76 508.57,336.34 509.57,336.92 510.57,337.49 511.56,338.07 512.56,338.64 513.56,339.20 514.55,339.77 515.55,340.33 516.55,340.89 517.54,341.44 518.54,341.99 519.53,342.54 520.53,343.09 521.53,343.63 522.52,344.18 523.52,344.71 524.52,345.25 525.51,345.78 526.51,346.31 527.51,346.84 528.50,347.36 529.50,347.89 530.50,348.41 531.49,348.92 532.49,349.44 533.48,349.95 534.48,350.46 535.48,350.96 536.47,351.47 537.47,351.97 538.47,352.47 539.46,352.97 540.46,353.46 541.46,353.95 542.45,354.44 543.45,354.93 544.44,355.42 545.44,355.90 546.44,356.38 547.43,356.86 548.43,357.34 549.43,357.81 550.42,358.28 551.42,358.75 552.42,359.22 553.41,359.68 554.41,360.15 555.40,360.61 556.40,361.07 557.40,361.53 558.39,361.98 559.39,362.44 560.39,362.89 561.38,363.34 562.38,363.78 563.38,364.23 564.37,364.67 565.37,365.12 566.37,365.56 567.36,366.00 568.36,366.43 569.35,366.87 570.35,367.30 571.35,367.73 572.34,368.16 573.34,368.59 574.34,369.02 575.33,369.44 576.33,369.87 577.33,370.29 578.32,370.71 579.32,371.13 580.31,371.54 581.31,371.96 582.31,372.38 583.30,372.79 584.30,373.20 585.26,373.59 586.22,373.97 587.19,374.33 588.15,374.69 589.11,375.05 590.08,375.40 591.04,375.75 592.00,376.10 592.99,376.39 593.97,376.70 594.96,377.02 595.94,377.36 596.93,377.70 597.91,378.06 598.90,378.43 599.89,378.81 600.87,379.20 601.86,379.60 602.84,380.01 603.83,380.43 604.81,380.86 605.80,381.30 606.77,381.74 607.73,382.21 608.70,382.70 609.67,383.21 610.63,383.74 611.60,384.27 612.57,384.82 613.53,385.38 614.50,385.94 615.47,386.51 616.43,387.08 617.40,387.64 618.37,388.20 619.33,388.76 620.30,389.30 621.27,389.85 622.25,390.41 623.22,390.98 624.19,391.55 625.17,392.13 626.14,392.71 627.11,393.28 628.09,393.85 629.06,394.42 630.03,394.97 631.01,395.51 631.98,396.04 632.95,396.55 633.93,397.04 634.90,397.50 635.88,397.95 636.87,398.40 637.85,398.84 638.84,399.27 639.82,399.69 640.81,400.11 641.79,400.51 642.77,400.91 643.76,401.31 644.74,401.69 645.73,402.07 646.71,402.44 647.69,402.80 648.68,403.15 649.66,403.50 650.65,403.83 651.63,404.16 652.62,404.49 653.60,404.80 654.59,405.11 655.58,405.42 656.57,405.72 657.56,406.02 658.55,406.31 659.55,406.60 660.54,406.89 661.53,407.17 662.52,407.45 663.51,407.72 664.50,407.98 665.49,408.24 666.48,408.50 667.47,408.75 668.46,408.99 669.45,409.23 670.45,409.46 671.44,409.68 672.43,409.90 673.42,410.10 674.41,410.31 675.40,410.50 675.40,451.50 674.41,450.52 673.42,449.54 672.43,448.56 671.44,447.58 670.45,446.60 669.45,445.62 668.46,444.63 667.47,443.64 666.48,442.66 665.49,441.67 664.50,440.68 663.51,439.68 662.52,438.69 661.53,437.70 660.54,436.70 659.55,435.70 658.55,434.71 657.56,433.71 656.57,432.71 655.58,431.71 654.59,430.70 653.60,429.70 652.62,428.70 651.63,427.70 650.65,426.70 649.66,425.69 648.68,424.69 647.69,423.68 646.71,422.67 645.73,421.66 644.74,420.65 643.76,419.63 642.77,418.62 641.79,417.61 640.81,416.59 639.82,415.58 638.84,414.56 637.85,413.54 636.87,412.53 635.88,411.51 634.90,410.50 633.93,409.48 632.95,408.44 631.98,407.39 631.01,406.32 630.03,405.25 629.06,404.17 628.09,403.10 627.11,402.04 626.14,401.00 625.17,399.98 624.19,398.99 623.22,398.03 622.25,397.10 621.27,396.23 620.30,395.40 619.33,394.62 618.37,393.88 617.40,393.16 616.43,392.47 615.47,391.80 614.50,391.15 613.53,390.51 612.57,389.88 611.60,389.26 610.63,388.65 609.67,388.03 608.70,387.41 607.73,386.79 606.77,386.15 605.80,385.50 604.81,384.83 603.83,384.16 602.84,383.48 601.86,382.81 600.87,382.14 599.89,381.47 598.90,380.80 597.91,380.13 596.93,379.45 595.94,378.78 594.96,378.11 593.97,377.44 592.99,376.77 592.00,376.10 591.04,376.00 590.08,375.91 589.11,375.81 588.15,375.72 587.19,375.64 586.22,375.57 585.26,375.52 584.30,375.50 583.30,375.49 582.31,375.48 581.31,375.48 580.32,375.47 579.32,375.46 578.32,375.45 577.33,375.45 576.33,375.44 575.34,375.44 574.34,375.43 573.34,375.43 572.35,375.42 571.35,375.42 570.36,375.42 569.36,375.41 568.36,375.41 567.37,375.41 566.37,375.41 565.38,375.40 564.38,375.40 563.38,375.40 562.39,375.40 561.39,375.40 560.40,375.40 559.40,375.40 558.40,375.40 557.41,375.40 556.41,375.40 555.41,375.40 554.42,375.40 553.42,375.41 552.42,375.41 551.43,375.41 550.43,375.41 549.43,375.41 548.44,375.42 547.44,375.42 546.44,375.42 545.45,375.43 544.45,375.43 543.46,375.44 542.46,375.44 541.46,375.45 540.47,375.45 539.47,375.46 538.47,375.46 537.48,375.47 536.48,375.48 535.48,375.48 534.49,375.49 533.49,375.50 532.49,375.51 531.50,375.52 530.50,375.52 529.50,375.53 528.51,375.54 527.51,375.55 526.51,375.56 525.52,375.57 524.52,375.58 523.52,375.59 522.53,375.60 521.53,375.61 520.53,375.62 519.54,375.64 518.54,375.65 517.54,375.66 516.55,375.67 515.55,375.69 514.56,375.70 513.56,375.71 512.56,375.73 511.57,375.74 510.57,375.76 509.57,375.77 508.58,375.79 507.58,375.80 506.58,375.82 505.59,375.83 504.59,375.85 503.59,375.87 502.60,375.88 501.60,375.90" fill="#ff0000" fill-opacity="0.11"/>
<path d="M493.30,377.10H684.00" stroke="#3a3a3a" stroke-width="0.85" stroke-dasharray="2.6,2.2" stroke-dashoffset="0.9" fill="none"/>
<polyline clip-path="url(#c22)" points="501.60,354.50 502.58,354.70 503.56,354.89 504.54,355.09 505.52,355.29 506.50,355.49 507.48,355.68 508.46,355.88 509.44,356.08 510.42,356.28 511.40,356.48 512.38,356.68 513.36,356.88 514.34,357.08 515.32,357.28 516.30,357.48 517.28,357.68 518.26,357.88 519.24,358.08 520.22,358.28 521.20,358.49 522.18,358.69 523.16,358.89 524.14,359.09 525.12,359.30 526.10,359.50 527.10,359.71 528.10,359.91 529.10,360.12 530.10,360.33 531.10,360.53 532.10,360.74 533.10,360.95 534.10,361.16 535.10,361.36 536.10,361.57 537.10,361.78 538.10,361.99 539.10,362.19 540.10,362.40 541.10,362.61 542.10,362.82 543.10,363.03 544.10,363.25 545.10,363.46 546.10,363.67 547.10,363.89 548.10,364.10 549.10,364.32 550.10,364.54 551.10,364.76 552.10,364.98 553.10,365.20 554.08,365.42 555.06,365.64 556.05,365.86 557.03,366.07 558.01,366.29 558.99,366.51 559.98,366.74 560.96,366.96 561.94,367.18 562.92,367.41 563.91,367.64 564.89,367.88 565.87,368.11 566.85,368.35 567.84,368.60 568.82,368.85 569.80,369.10 570.75,369.35 571.69,369.61 572.64,369.87 573.58,370.14 574.53,370.41 575.47,370.69 576.42,370.97 577.36,371.25 578.31,371.53 579.25,371.82 580.20,372.10 581.12,372.38 582.04,372.65 582.97,372.93 583.89,373.21 584.81,373.49 585.73,373.78 586.66,374.08 587.58,374.38 588.50,374.70 589.49,375.05 590.47,375.41 591.46,375.79 592.44,376.17 593.43,376.57 594.41,376.98 595.40,377.40 596.35,377.81 597.29,378.24 598.24,378.67 599.18,379.11 600.13,379.56 601.07,380.03 602.02,380.50 602.96,380.98 603.91,381.48 604.85,381.98 605.80,382.50 606.77,383.04 607.73,383.60 608.70,384.18 609.67,384.77 610.63,385.37 611.60,385.98 612.57,386.61 613.53,387.24 614.50,387.88 615.47,388.53 616.43,389.18 617.40,389.83 618.37,390.49 619.33,391.14 620.30,391.80 621.27,392.46 622.25,393.14 623.22,393.82 624.19,394.50 625.17,395.19 626.14,395.89 627.11,396.59 628.09,397.30 629.06,398.01 630.03,398.72 631.01,399.43 631.98,400.15 632.95,400.87 633.93,401.58 634.90,402.30 635.88,403.03 636.87,403.76 637.85,404.50 638.84,405.25 639.82,406.00 640.81,406.75 641.79,407.51 642.77,408.26 643.76,409.02 644.74,409.77 645.73,410.53 646.71,411.28 647.69,412.03 648.68,412.77 649.66,413.51 650.65,414.25 651.63,414.97 652.62,415.69 653.60,416.40 654.59,417.11 655.58,417.81 656.57,418.51 657.56,419.21 658.55,419.91 659.55,420.60 660.54,421.29 661.53,421.97 662.52,422.66 663.51,423.33 664.50,424.01 665.49,424.68 666.48,425.35 667.47,426.02 668.46,426.68 669.45,427.33 670.45,427.99 671.44,428.64 672.43,429.28 673.42,429.93 674.41,430.57 675.40,431.20" fill="none" stroke="#ff0000" stroke-width="1.6" stroke-linejoin="round" stroke-linecap="butt"/>
<rect x="493.30" y="325.80" width="190.70" height="132.80" fill="none" stroke="#6b6b6b" stroke-width="1.1"/>
<path d="M526.15,458.60v2.7 M580.50,458.60v2.7 M634.84,458.60v2.7 M493.30,338.80h-2.7 M493.30,377.10h-2.7 M493.30,415.40h-2.7 M493.30,453.70h-2.7" stroke="#6b6b6b" stroke-width="1" fill="none"/>
<text class="tl" transform="translate(525.75,469.60) scale(0.85,1)" text-anchor="middle">0</text>
<text class="tl" transform="translate(580.10,469.60) scale(0.85,1)" text-anchor="middle">2</text>
<text class="tl" transform="translate(634.44,469.60) scale(0.85,1)" text-anchor="middle">4</text>
<text class="tl" transform="translate(489.50,342.20) scale(0.87,1)" text-anchor="end">0.02</text>
<text class="tl" transform="translate(489.50,380.50) scale(0.87,1)" text-anchor="end">0.00</text>
<text class="tl" transform="translate(489.50,418.80) scale(0.87,1)" text-anchor="end">-0.02</text>
<text class="tl" transform="translate(489.50,457.10) scale(0.87,1)" text-anchor="end">-0.04</text>
<text class="at" transform="translate(588.65,479.60) scale(1,1.15)" text-anchor="middle">Thiocyanate(ln ng/mL)</text>
<text class="at" transform="translate(473.00,392.20) rotate(-90) scale(0.98,1.05)" text-anchor="middle">β(95%CI) for TP(ln g/dL)</text>
<text class="pt" x="548.30" y="343.50">P-overall < 0.0001</text>
<text class="pt" x="547.50" y="358.40">P-nonlinear = 0.054</text>
</g>
</svg>
</body></html>
